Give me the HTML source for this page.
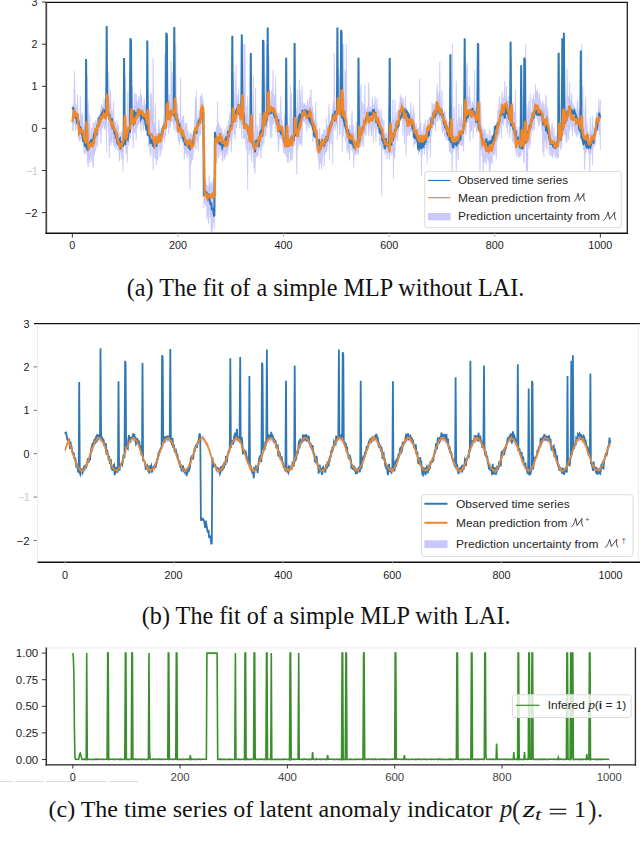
<!DOCTYPE html>
<html><head><meta charset="utf-8">
<style>
html,body{margin:0;padding:0;background:#fff;width:640px;height:855px;overflow:hidden}
svg{display:block}
.t{font-family:"Liberation Sans",sans-serif;font-size:10.8px;fill:#1a1a1a}
.lg{font-family:"Liberation Sans",sans-serif;font-size:10.6px;fill:#262626}
.cap{font-family:"Liberation Serif",serif;font-size:24px;fill:#111}
</style></head><body>
<svg width="640" height="855" viewBox="0 0 640 855">
<defs>
<clipPath id="c1"><rect x="46" y="2" width="582" height="232"/></clipPath>
<clipPath id="c2"><rect x="37" y="323" width="603" height="240"/></clipPath>
<clipPath id="c3"><rect x="46" y="647" width="590" height="118"/></clipPath>
</defs>
<!-- ============ CHART 1 ============ -->
<g clip-path="url(#c1)">
<path d="M72.4,112.2 72.9,104.9 73.4,107.6 73.9,98.6 74.5,70.9 75.0,90.0 75.5,108.6 76.1,108.3 76.6,104.6 77.1,104.3 77.6,94.7 78.2,114.7 78.7,117.7 79.2,124.0 79.8,117.6 80.3,96.0 80.8,123.7 81.3,114.1 81.9,128.6 82.4,112.2 82.9,120.5 83.4,124.5 84.0,129.0 84.5,131.0 85.0,125.1 85.6,137.1 86.1,132.6 86.6,116.0 87.1,76.1 87.7,135.2 88.2,100.2 88.7,119.9 89.3,140.4 89.8,114.5 90.3,134.2 90.8,140.3 91.4,135.0 91.9,127.8 92.4,142.4 93.0,123.1 93.5,135.1 94.0,122.5 94.5,131.6 95.1,129.4 95.6,120.1 96.1,123.1 96.6,124.8 97.2,118.6 97.7,116.4 98.2,118.3 98.8,115.7 99.3,116.1 99.8,115.4 100.3,112.4 100.9,107.7 101.4,104.4 101.9,111.8 102.5,105.5 103.0,108.1 103.5,107.0 104.0,97.9 104.6,109.1 105.1,99.6 105.6,109.7 106.2,108.3 106.7,99.9 107.2,87.0 107.7,89.0 108.3,103.3 108.8,71.6 109.3,97.4 109.8,109.1 110.4,90.0 110.9,94.8 111.4,119.4 112.0,110.0 112.5,116.5 113.0,117.9 113.5,101.0 114.1,121.7 114.6,120.9 115.1,121.8 115.7,122.1 116.2,128.1 116.7,129.3 117.2,120.6 117.8,133.3 118.3,124.4 118.8,137.0 119.4,140.3 119.9,132.4 120.4,137.7 120.9,137.3 121.5,131.0 122.0,133.3 122.5,134.3 123.0,134.5 123.6,124.4 124.1,92.6 124.6,110.6 125.2,75.8 125.7,114.3 126.2,123.6 126.7,128.3 127.3,124.0 127.8,90.9 128.3,112.9 128.9,121.1 129.4,70.0 129.9,123.1 130.4,103.8 131.0,85.3 131.5,101.0 132.0,101.9 132.6,86.3 133.1,104.6 133.6,116.1 134.1,107.2 134.7,92.7 135.2,94.6 135.7,114.5 136.2,93.9 136.8,108.0 137.3,101.6 137.8,102.2 138.4,99.0 138.9,96.3 139.4,99.0 139.9,107.2 140.5,90.2 141.0,101.3 141.5,94.5 142.1,105.3 142.6,106.7 143.1,109.8 143.6,105.7 144.2,98.3 144.7,109.7 145.2,104.1 145.8,110.5 146.3,103.2 146.8,115.7 147.3,113.9 147.9,95.5 148.4,97.4 148.9,126.0 149.4,128.0 150.0,114.5 150.5,91.8 151.0,120.7 151.6,94.1 152.1,105.9 152.6,125.1 153.1,58.7 153.7,133.5 154.2,123.1 154.7,134.6 155.3,102.9 155.8,127.0 156.3,135.8 156.8,133.0 157.4,138.9 157.9,135.9 158.4,128.1 159.0,119.4 159.5,132.0 160.0,129.8 160.5,137.0 161.1,127.5 161.6,131.8 162.1,126.4 162.6,125.9 163.2,123.9 163.7,116.7 164.2,114.5 164.8,53.6 165.3,113.9 165.8,121.3 166.3,44.2 166.9,95.4 167.4,78.2 167.9,96.2 168.5,114.3 169.0,96.3 169.5,94.0 170.0,102.7 170.6,108.6 171.1,60.8 171.6,91.7 172.2,72.0 172.7,105.6 173.2,104.0 173.7,97.2 174.3,88.1 174.8,67.4 175.3,72.8 175.8,44.2 176.4,113.2 176.9,111.5 177.4,102.9 178.0,111.8 178.5,114.1 179.0,123.6 179.5,123.1 180.1,117.5 180.6,77.7 181.1,126.4 181.7,120.2 182.2,120.5 182.7,117.6 183.2,115.2 183.8,116.6 184.3,127.3 184.8,131.4 185.4,126.0 185.9,122.8 186.4,122.9 186.9,122.8 187.5,134.8 188.0,130.8 188.5,136.8 189.0,136.6 189.6,134.7 190.1,133.1 190.6,132.1 191.2,143.2 191.7,133.9 192.2,139.9 192.7,136.9 193.3,131.3 193.8,130.8 194.3,125.9 194.9,115.7 195.4,97.3 195.9,122.1 196.4,90.8 197.0,121.1 197.5,121.4 198.0,117.0 198.6,118.0 199.1,110.1 199.6,117.9 200.1,99.0 200.7,95.9 201.2,100.5 201.7,93.5 202.2,97.3 202.8,99.5 203.3,101.5 203.8,126.5 204.4,151.1 204.9,184.5 205.4,186.2 205.9,181.4 206.5,187.5 207.0,189.4 207.5,185.5 208.1,185.8 208.6,190.2 209.1,175.3 209.6,191.9 210.2,183.1 210.7,185.2 211.2,189.5 211.8,181.5 212.3,184.6 212.8,189.1 213.3,179.9 213.9,178.0 214.4,190.0 214.9,179.5 215.4,130.8 216.0,131.4 216.5,126.3 217.0,136.3 217.6,101.6 218.1,130.3 218.6,122.7 219.1,136.6 219.7,125.1 220.2,128.4 220.7,129.8 221.3,127.8 221.8,129.7 222.3,132.0 222.8,138.0 223.4,133.5 223.9,135.5 224.4,138.6 225.0,128.7 225.5,140.9 226.0,133.6 226.5,131.9 227.1,125.7 227.6,132.1 228.1,131.1 228.6,119.6 229.2,128.9 229.7,112.7 230.2,118.5 230.8,116.0 231.3,110.4 231.8,121.6 232.3,104.8 232.9,100.4 233.4,84.9 233.9,71.7 234.5,105.8 235.0,115.4 235.5,95.1 236.0,64.9 236.6,108.9 237.1,95.0 237.6,105.4 238.2,95.2 238.7,89.4 239.2,101.1 239.7,106.1 240.3,103.8 240.8,98.8 241.3,112.1 241.8,109.3 242.4,76.0 242.9,44.2 243.4,117.7 244.0,44.2 244.5,110.9 245.0,44.2 245.5,105.3 246.1,105.5 246.6,115.3 247.1,119.4 247.7,95.8 248.2,115.0 248.7,122.8 249.2,132.4 249.8,135.3 250.3,133.2 250.8,132.6 251.4,103.9 251.9,93.5 252.4,131.7 252.9,114.1 253.5,76.4 254.0,142.6 254.5,134.6 255.0,129.7 255.6,87.4 256.1,123.6 256.6,130.4 257.2,140.5 257.7,125.5 258.2,135.1 258.7,133.2 259.3,129.7 259.8,113.1 260.3,114.1 260.9,130.4 261.4,125.1 261.9,127.1 262.4,126.5 263.0,86.0 263.5,101.4 264.0,94.3 264.6,94.1 265.1,107.7 265.6,82.6 266.1,71.1 266.7,44.2 267.2,44.2 267.7,94.7 268.2,87.0 268.8,53.6 269.3,59.1 269.8,104.0 270.4,102.3 270.9,101.3 271.4,90.4 271.9,91.3 272.5,96.9 273.0,69.8 273.5,104.6 274.1,97.4 274.6,94.8 275.1,107.3 275.6,76.7 276.2,104.9 276.7,111.7 277.2,117.6 277.8,112.2 278.3,123.4 278.8,113.2 279.3,115.4 279.9,120.2 280.4,106.7 280.9,95.8 281.4,120.3 282.0,119.7 282.5,124.9 283.0,129.8 283.6,129.8 284.1,126.0 284.6,114.4 285.1,141.1 285.7,128.3 286.2,88.3 286.7,91.3 287.3,115.3 287.8,123.0 288.3,129.5 288.8,132.5 289.4,136.6 289.9,107.3 290.4,85.0 291.0,131.1 291.5,93.3 292.0,137.6 292.5,117.5 293.1,133.6 293.6,123.0 294.1,118.0 294.6,100.6 295.2,105.6 295.7,105.6 296.2,108.4 296.8,115.8 297.3,89.3 297.8,131.0 298.3,124.3 298.9,99.1 299.4,79.4 299.9,113.6 300.5,90.6 301.0,113.3 301.5,112.6 302.0,85.8 302.6,107.9 303.1,102.8 303.6,108.0 304.2,104.6 304.7,103.3 305.2,106.3 305.7,105.0 306.3,105.5 306.8,109.8 307.3,103.1 307.8,99.8 308.4,107.6 308.9,110.0 309.4,99.0 310.0,96.9 310.5,99.7 311.0,89.3 311.5,103.1 312.1,111.8 312.6,106.2 313.1,119.5 313.7,112.4 314.2,126.4 314.7,119.3 315.2,126.1 315.8,101.8 316.3,121.5 316.8,124.6 317.4,134.9 317.9,129.2 318.4,143.2 318.9,147.1 319.5,127.8 320.0,141.9 320.5,142.8 321.0,139.7 321.6,134.2 322.1,136.9 322.6,134.0 323.2,136.1 323.7,129.4 324.2,129.6 324.7,129.7 325.3,135.3 325.8,133.2 326.3,117.9 326.9,131.3 327.4,125.8 327.9,129.8 328.4,117.0 329.0,104.1 329.5,117.3 330.0,124.5 330.6,121.3 331.1,119.8 331.6,116.9 332.1,109.5 332.7,108.9 333.2,101.7 333.7,110.8 334.2,53.1 334.8,95.2 335.3,107.6 335.8,114.6 336.4,107.9 336.9,107.6 337.4,102.5 337.9,73.5 338.5,67.6 339.0,97.6 339.5,84.7 340.1,74.2 340.6,91.2 341.1,96.6 341.6,58.5 342.2,77.8 342.7,44.2 343.2,96.9 343.8,44.2 344.3,90.9 344.8,111.0 345.3,70.3 345.9,111.4 346.4,44.2 346.9,112.8 347.4,121.5 348.0,129.7 348.5,130.0 349.0,130.5 349.6,124.6 350.1,128.9 350.6,131.6 351.1,126.5 351.7,115.2 352.2,110.4 352.7,133.5 353.3,124.8 353.8,134.0 354.3,132.8 354.8,140.1 355.4,141.1 355.9,125.4 356.4,121.7 357.0,132.0 357.5,137.0 358.0,134.6 358.5,125.6 359.1,115.7 359.6,109.6 360.1,126.1 360.6,88.9 361.2,84.0 361.7,113.1 362.2,101.8 362.8,118.5 363.3,121.3 363.8,104.1 364.3,114.0 364.9,85.7 365.4,111.3 365.9,109.5 366.5,114.9 367.0,107.0 367.5,107.7 368.0,112.6 368.6,82.7 369.1,91.6 369.6,111.9 370.2,112.4 370.7,106.2 371.2,108.6 371.7,111.4 372.3,97.9 372.8,102.3 373.3,105.8 373.8,104.8 374.4,109.9 374.9,96.4 375.4,102.0 376.0,107.1 376.5,109.0 377.0,97.7 377.5,109.8 378.1,109.1 378.6,110.6 379.1,110.1 379.7,112.4 380.2,118.8 380.7,122.6 381.2,108.7 381.8,123.5 382.3,118.2 382.8,130.7 383.4,126.8 383.9,120.1 384.4,132.5 384.9,136.3 385.5,132.4 386.0,133.5 386.5,133.0 387.0,136.8 387.6,139.0 388.1,125.9 388.6,107.1 389.2,145.0 389.7,138.8 390.2,119.7 390.7,106.1 391.3,133.7 391.8,130.7 392.3,120.6 392.9,99.1 393.4,122.1 393.9,118.8 394.4,130.7 395.0,100.2 395.5,116.4 396.0,116.2 396.6,117.4 397.1,111.7 397.6,113.9 398.1,109.7 398.7,111.5 399.2,105.1 399.7,104.2 400.2,94.5 400.8,103.3 401.3,97.0 401.8,96.7 402.4,103.0 402.9,100.9 403.4,98.2 403.9,105.7 404.5,112.3 405.0,109.8 405.5,96.0 406.1,113.2 406.6,107.8 407.1,114.7 407.6,110.3 408.2,112.9 408.7,112.9 409.2,119.5 409.8,114.3 410.3,113.1 410.8,102.1 411.3,110.5 411.9,114.2 412.4,117.6 412.9,116.3 413.4,105.6 414.0,113.3 414.5,113.3 415.0,126.0 415.6,127.8 416.1,123.0 416.6,125.7 417.1,129.4 417.7,131.5 418.2,127.4 418.7,129.9 419.3,135.8 419.8,78.9 420.3,129.2 420.8,123.1 421.4,137.0 421.9,132.2 422.4,135.0 423.0,130.6 423.5,126.7 424.0,123.8 424.5,130.2 425.1,119.4 425.6,129.5 426.1,129.5 426.6,129.3 427.2,124.0 427.7,120.2 428.2,122.4 428.8,118.0 429.3,117.7 429.8,116.9 430.3,116.8 430.9,116.1 431.4,118.5 431.9,102.3 432.5,104.3 433.0,104.7 433.5,104.2 434.0,110.7 434.6,104.3 435.1,102.7 435.6,105.2 436.2,105.5 436.7,93.0 437.2,83.7 437.7,95.8 438.3,102.2 438.8,92.1 439.3,105.0 439.8,61.6 440.4,98.0 440.9,109.3 441.4,105.6 442.0,89.7 442.5,111.6 443.0,110.9 443.5,114.8 444.1,112.0 444.6,110.7 445.1,111.5 445.7,115.4 446.2,119.4 446.7,118.5 447.2,126.1 447.8,124.0 448.3,122.1 448.8,122.6 449.4,128.5 449.9,123.9 450.4,131.8 450.9,108.1 451.5,105.7 452.0,124.6 452.5,44.2 453.0,132.3 453.6,121.4 454.1,107.6 454.6,131.2 455.2,135.4 455.7,124.8 456.2,81.1 456.7,120.8 457.3,120.1 457.8,127.8 458.3,130.6 458.9,103.9 459.4,126.7 459.9,117.7 460.4,125.7 461.0,119.1 461.5,105.8 462.0,126.0 462.6,119.0 463.1,123.1 463.6,120.4 464.1,113.4 464.7,103.3 465.2,92.3 465.7,85.2 466.2,65.3 466.8,99.0 467.3,62.7 467.8,105.9 468.4,96.6 468.9,102.6 469.4,85.4 469.9,97.6 470.5,98.2 471.0,109.8 471.5,110.1 472.1,102.8 472.6,101.2 473.1,104.2 473.6,109.0 474.2,100.3 474.7,69.3 475.2,113.6 475.8,106.8 476.3,111.8 476.8,114.4 477.3,98.0 477.9,97.8 478.4,83.4 478.9,90.9 479.4,44.2 480.0,107.1 480.5,102.4 481.0,105.6 481.6,133.1 482.1,134.7 482.6,126.2 483.1,130.0 483.7,136.1 484.2,128.8 484.7,129.0 485.3,141.6 485.8,130.1 486.3,139.9 486.8,141.8 487.4,137.5 487.9,133.6 488.4,140.1 489.0,144.4 489.5,128.9 490.0,131.5 490.5,141.5 491.1,140.1 491.6,141.5 492.1,141.4 492.6,139.8 493.2,138.4 493.7,137.1 494.2,133.4 494.8,130.3 495.3,131.4 495.8,129.5 496.3,127.3 496.9,122.1 497.4,118.0 497.9,109.5 498.5,112.7 499.0,103.2 499.5,96.1 500.0,112.0 500.6,103.8 501.1,104.2 501.6,99.5 502.2,91.5 502.7,94.8 503.2,98.5 503.7,100.5 504.3,97.3 504.8,80.8 505.3,97.9 505.8,100.3 506.4,85.8 506.9,100.3 507.4,101.4 508.0,102.3 508.5,96.4 509.0,107.0 509.5,110.7 510.1,107.0 510.6,77.2 511.1,56.9 511.7,89.2 512.2,110.0 512.7,107.8 513.2,102.4 513.8,116.1 514.3,111.7 514.8,122.8 515.4,89.8 515.9,110.8 516.4,141.3 516.9,137.3 517.5,127.0 518.0,129.8 518.5,135.5 519.0,135.7 519.6,126.3 520.1,136.3 520.6,141.2 521.2,139.9 521.7,88.2 522.2,95.9 522.7,129.9 523.3,136.1 523.8,102.6 524.3,136.4 524.9,106.7 525.4,66.1 525.9,44.2 526.4,123.7 527.0,104.6 527.5,124.6 528.0,130.6 528.6,100.9 529.1,122.5 529.6,111.9 530.1,93.8 530.7,121.2 531.2,112.8 531.7,114.4 532.2,98.7 532.8,102.9 533.3,94.4 533.8,104.5 534.4,100.1 534.9,101.0 535.4,84.3 535.9,98.9 536.5,90.9 537.0,94.9 537.5,89.4 538.1,96.0 538.6,105.1 539.1,96.0 539.6,93.1 540.2,103.4 540.7,101.8 541.2,104.0 541.8,106.9 542.3,107.5 542.8,100.0 543.3,114.1 543.9,103.4 544.4,113.6 544.9,106.9 545.4,104.0 546.0,94.9 546.5,103.7 547.0,115.5 547.6,107.8 548.1,114.3 548.6,119.2 549.1,117.9 549.7,131.3 550.2,134.2 550.7,136.1 551.3,129.4 551.8,124.2 552.3,123.0 552.8,134.8 553.4,137.4 553.9,128.7 554.4,138.8 555.0,137.2 555.5,136.0 556.0,139.1 556.5,136.7 557.1,132.5 557.6,136.9 558.1,133.4 558.6,132.8 559.2,51.2 559.7,98.8 560.2,106.2 560.8,112.9 561.3,75.5 561.8,126.4 562.3,119.9 562.9,95.9 563.4,61.1 563.9,118.1 564.5,71.6 565.0,91.6 565.5,104.3 566.0,112.8 566.6,109.2 567.1,68.6 567.6,100.2 568.2,97.7 568.7,96.5 569.2,102.8 569.7,81.9 570.3,104.7 570.8,99.4 571.3,101.5 571.8,93.0 572.4,113.6 572.9,103.0 573.4,109.2 574.0,105.4 574.5,107.7 575.0,111.5 575.5,107.8 576.1,109.8 576.6,115.8 577.1,101.3 577.7,99.6 578.2,111.4 578.7,114.5 579.2,108.6 579.8,116.6 580.3,118.7 580.8,105.0 581.4,105.8 581.9,44.2 582.4,107.3 582.9,86.8 583.5,122.7 584.0,131.3 584.5,127.2 585.0,106.9 585.6,96.9 586.1,116.6 586.6,122.0 587.2,123.5 587.7,130.4 588.2,131.2 588.7,134.3 589.3,134.5 589.8,136.0 590.3,116.8 590.9,137.1 591.4,132.8 591.9,129.2 592.4,116.3 593.0,124.1 593.5,128.4 594.0,131.1 594.6,130.7 595.1,127.6 595.6,125.9 596.1,114.0 596.7,115.4 597.2,112.1 597.7,112.5 598.2,110.9 598.8,99.1 599.3,108.5 599.8,112.2 600.4,99.9 600.4,149.8 599.8,129.8 599.3,134.6 598.8,124.9 598.2,130.5 597.7,126.8 597.2,130.5 596.7,129.9 596.1,130.6 595.6,144.6 595.1,140.9 594.6,142.7 594.0,146.5 593.5,144.1 593.0,145.6 592.4,165.1 591.9,143.1 591.4,150.6 590.9,153.8 590.3,150.6 589.8,175.8 589.3,151.3 588.7,154.2 588.2,146.6 587.7,147.4 587.2,141.6 586.6,149.9 586.1,152.3 585.6,151.4 585.0,160.1 584.5,169.9 584.0,145.7 583.5,150.0 582.9,141.3 582.4,139.6 581.9,134.4 581.4,133.7 580.8,134.6 580.3,138.3 579.8,132.2 579.2,132.9 578.7,127.9 578.2,135.2 577.7,127.6 577.1,137.2 576.6,136.1 576.1,134.2 575.5,130.2 575.0,133.3 574.5,129.4 574.0,126.8 573.4,123.3 572.9,128.8 572.4,136.6 571.8,127.6 571.3,126.3 570.8,121.4 570.3,122.0 569.7,131.4 569.2,125.3 568.7,140.0 568.2,128.9 567.6,124.2 567.1,141.9 566.6,132.8 566.0,143.3 565.5,128.9 565.0,135.4 564.5,127.6 563.9,135.8 563.4,124.6 562.9,130.5 562.3,137.6 561.8,146.2 561.3,147.1 560.8,150.2 560.2,146.6 559.7,132.6 559.2,133.1 558.6,157.9 558.1,153.9 557.6,158.7 557.1,157.2 556.5,153.8 556.0,155.5 555.5,158.1 555.0,155.2 554.4,151.1 553.9,150.1 553.4,154.7 552.8,157.8 552.3,157.1 551.8,148.3 551.3,156.1 550.7,156.3 550.2,147.4 549.7,143.1 549.1,154.5 548.6,135.8 548.1,136.7 547.6,131.8 547.0,150.0 546.5,131.9 546.0,147.8 545.4,133.6 544.9,141.1 544.4,135.7 543.9,156.9 543.3,128.9 542.8,152.2 542.3,124.8 541.8,130.2 541.2,119.6 540.7,120.7 540.2,122.3 539.6,123.3 539.1,124.3 538.6,126.6 538.1,124.1 537.5,119.2 537.0,115.1 536.5,115.9 535.9,117.9 535.4,114.9 534.9,116.5 534.4,130.1 533.8,120.1 533.3,129.8 532.8,131.1 532.2,126.2 531.7,132.4 531.2,136.0 530.7,139.6 530.1,144.7 529.6,138.7 529.1,148.8 528.6,143.1 528.0,145.0 527.5,202.9 527.0,152.8 526.4,178.4 525.9,130.2 525.4,134.0 524.9,135.6 524.3,163.2 523.8,162.9 523.3,151.7 522.7,151.7 522.2,143.2 521.7,137.0 521.2,155.2 520.6,156.5 520.1,152.9 519.6,157.8 519.0,155.3 518.5,157.2 518.0,156.1 517.5,146.5 516.9,148.8 516.4,156.1 515.9,151.4 515.4,148.2 514.8,146.8 514.3,137.1 513.8,143.8 513.2,138.9 512.7,141.6 512.2,140.6 511.7,112.8 511.1,115.1 510.6,130.5 510.1,133.9 509.5,138.0 509.0,120.2 508.5,124.7 508.0,117.4 507.4,133.3 506.9,112.8 506.4,127.7 505.8,116.2 505.3,117.1 504.8,110.7 504.3,118.8 503.7,125.8 503.2,116.0 502.7,124.0 502.2,117.6 501.6,139.2 501.1,119.6 500.6,125.1 500.0,132.3 499.5,130.4 499.0,137.6 498.5,132.3 497.9,137.9 497.4,140.9 496.9,140.0 496.3,158.9 495.8,150.0 495.3,148.2 494.8,155.5 494.2,152.6 493.7,153.8 493.2,152.8 492.6,156.8 492.1,163.7 491.6,162.1 491.1,162.6 490.5,158.5 490.0,192.6 489.5,182.0 489.0,161.7 488.4,160.9 487.9,160.1 487.4,155.2 486.8,155.9 486.3,164.3 485.8,164.0 485.3,155.8 484.7,155.8 484.2,162.7 483.7,156.6 483.1,174.7 482.6,153.8 482.1,156.4 481.6,146.4 481.0,150.2 480.5,141.4 480.0,178.3 479.4,134.3 478.9,121.5 478.4,122.8 477.9,128.7 477.3,130.7 476.8,130.0 476.3,132.9 475.8,122.4 475.2,127.2 474.7,127.6 474.2,123.2 473.6,123.5 473.1,138.8 472.6,123.8 472.1,122.2 471.5,131.5 471.0,129.8 470.5,124.8 469.9,142.0 469.4,124.4 468.9,120.1 468.4,117.9 467.8,122.6 467.3,119.9 466.8,121.5 466.2,131.5 465.7,135.2 465.2,130.1 464.7,131.2 464.1,128.9 463.6,151.1 463.1,136.3 462.6,145.8 462.0,143.7 461.5,146.0 461.0,145.7 460.4,145.7 459.9,140.5 459.4,143.7 458.9,143.3 458.3,160.1 457.8,155.9 457.3,146.9 456.7,149.1 456.2,173.2 455.7,146.3 455.2,148.6 454.6,147.6 454.1,149.0 453.6,145.4 453.0,152.1 452.5,149.0 452.0,180.2 451.5,132.8 450.9,154.1 450.4,153.4 449.9,144.7 449.4,151.8 448.8,142.1 448.3,137.8 447.8,136.1 447.2,140.4 446.7,136.0 446.2,140.2 445.7,134.4 445.1,134.6 444.6,137.3 444.1,128.8 443.5,131.1 443.0,126.0 442.5,133.1 442.0,129.1 441.4,121.7 440.9,121.2 440.4,118.6 439.8,115.4 439.3,119.5 438.8,116.2 438.3,117.4 437.7,122.1 437.2,116.6 436.7,109.7 436.2,120.8 435.6,131.1 435.1,124.4 434.6,123.8 434.0,125.2 433.5,122.0 433.0,127.8 432.5,129.0 431.9,127.9 431.4,135.4 430.9,137.5 430.3,158.0 429.8,140.6 429.3,136.1 428.8,142.4 428.2,148.8 427.7,148.8 427.2,163.3 426.6,149.2 426.1,143.1 425.6,142.9 425.1,147.8 424.5,154.2 424.0,149.6 423.5,148.3 423.0,142.9 422.4,154.0 421.9,155.4 421.4,175.5 420.8,151.1 420.3,144.2 419.8,152.5 419.3,150.1 418.7,150.7 418.2,155.1 417.7,148.5 417.1,142.7 416.6,140.9 416.1,143.3 415.6,144.2 415.0,143.5 414.5,142.2 414.0,146.5 413.4,136.2 412.9,137.5 412.4,130.2 411.9,132.2 411.3,131.6 410.8,131.8 410.3,130.8 409.8,132.9 409.2,135.7 408.7,132.7 408.2,130.1 407.6,136.6 407.1,128.5 406.6,128.1 406.1,156.7 405.5,123.3 405.0,124.2 404.5,143.9 403.9,124.3 403.4,116.6 402.9,135.4 402.4,118.9 401.8,113.7 401.3,119.1 400.8,118.5 400.2,118.3 399.7,117.4 399.2,122.8 398.7,131.0 398.1,131.8 397.6,137.7 397.1,140.9 396.6,135.4 396.0,137.3 395.5,142.1 395.0,158.5 394.4,157.9 393.9,147.2 393.4,178.9 392.9,144.1 392.3,152.3 391.8,155.7 391.3,149.6 390.7,135.5 390.2,137.6 389.7,159.5 389.2,159.2 388.6,153.8 388.1,153.5 387.6,151.6 387.0,159.6 386.5,150.8 386.0,150.5 385.5,152.6 384.9,154.8 384.4,147.1 383.9,150.6 383.4,146.6 382.8,147.7 382.3,140.6 381.8,195.7 381.2,138.7 380.7,137.0 380.2,144.0 379.7,145.9 379.1,134.0 378.6,129.3 378.1,128.6 377.5,129.7 377.0,128.2 376.5,129.1 376.0,141.5 375.4,133.8 374.9,127.6 374.4,123.8 373.8,121.5 373.3,142.5 372.8,126.5 372.3,125.6 371.7,136.2 371.2,135.5 370.7,125.2 370.2,124.4 369.6,129.3 369.1,132.1 368.6,135.9 368.0,127.9 367.5,121.7 367.0,121.3 366.5,127.2 365.9,135.8 365.4,131.2 364.9,134.8 364.3,128.8 363.8,141.7 363.3,146.8 362.8,146.0 362.2,138.4 361.7,139.7 361.2,145.5 360.6,146.7 360.1,145.9 359.6,135.0 359.1,139.4 358.5,154.9 358.0,150.6 357.5,153.7 357.0,151.5 356.4,152.0 355.9,155.5 355.4,154.4 354.8,152.7 354.3,153.8 353.8,167.8 353.3,150.9 352.7,151.5 352.2,148.9 351.7,150.2 351.1,142.9 350.6,145.8 350.1,145.9 349.6,160.7 349.0,148.7 348.5,147.4 348.0,153.3 347.4,144.2 346.9,150.4 346.4,136.7 345.9,128.7 345.3,141.8 344.8,125.1 344.3,128.0 343.8,128.7 343.2,136.5 342.7,105.1 342.2,152.2 341.6,115.9 341.1,121.3 340.6,124.4 340.1,134.7 339.5,134.5 339.0,122.2 338.5,110.6 337.9,106.0 337.4,140.2 336.9,123.2 336.4,124.0 335.8,126.5 335.3,128.1 334.8,130.9 334.2,122.1 333.7,127.7 333.2,129.1 332.7,163.7 332.1,128.9 331.6,132.5 331.1,144.3 330.6,138.8 330.0,137.2 329.5,160.4 329.0,141.6 328.4,137.0 327.9,146.6 327.4,145.1 326.9,150.6 326.3,152.0 325.8,147.7 325.3,154.2 324.7,151.1 324.2,166.4 323.7,151.4 323.2,151.5 322.6,156.4 322.1,166.6 321.6,169.8 321.0,152.9 320.5,163.5 320.0,159.1 319.5,169.5 318.9,162.6 318.4,158.5 317.9,156.3 317.4,149.0 316.8,151.1 316.3,151.2 315.8,145.3 315.2,138.8 314.7,133.0 314.2,137.9 313.7,130.8 313.1,141.0 312.6,141.7 312.1,130.0 311.5,126.6 311.0,120.9 310.5,122.0 310.0,126.8 309.4,119.6 308.9,128.5 308.4,122.0 307.8,124.2 307.3,124.5 306.8,132.1 306.3,124.7 305.7,123.0 305.2,123.6 304.7,121.6 304.2,119.7 303.6,121.7 303.1,120.7 302.6,123.1 302.0,146.2 301.5,140.6 301.0,140.1 300.5,144.0 299.9,135.8 299.4,145.3 298.9,137.9 298.3,139.5 297.8,148.4 297.3,150.5 296.8,174.9 296.2,147.1 295.7,126.7 295.2,129.5 294.6,145.7 294.1,142.0 293.6,143.3 293.1,148.7 292.5,157.2 292.0,160.5 291.5,157.8 291.0,159.2 290.4,161.6 289.9,148.7 289.4,152.4 288.8,152.4 288.3,163.3 287.8,154.8 287.3,162.2 286.7,135.1 286.2,157.0 285.7,154.9 285.1,153.9 284.6,147.5 284.1,153.4 283.6,151.8 283.0,145.1 282.5,144.9 282.0,134.2 281.4,139.6 280.9,137.5 280.4,137.7 279.9,137.8 279.3,137.2 278.8,146.6 278.3,152.3 277.8,137.0 277.2,133.9 276.7,126.3 276.2,128.8 275.6,132.6 275.1,124.2 274.6,121.7 274.1,119.7 273.5,121.5 273.0,124.9 272.5,117.5 271.9,137.8 271.4,131.8 270.9,116.6 270.4,138.7 269.8,125.6 269.3,121.6 268.8,106.9 268.2,120.3 267.7,123.3 267.2,128.0 266.7,124.1 266.1,135.6 265.6,136.5 265.1,136.1 264.6,119.7 264.0,143.2 263.5,123.2 263.0,146.1 262.4,141.8 261.9,146.0 261.4,150.8 260.9,158.4 260.3,145.8 259.8,146.0 259.3,150.4 258.7,145.8 258.2,156.0 257.7,155.7 257.2,155.9 256.6,157.6 256.1,153.3 255.6,158.4 255.0,173.8 254.5,166.3 254.0,168.4 253.5,161.7 252.9,154.4 252.4,146.3 251.9,133.0 251.4,162.0 250.8,148.6 250.3,149.7 249.8,148.9 249.2,154.3 248.7,135.8 248.2,144.2 247.7,189.7 247.1,144.6 246.6,138.3 246.1,149.4 245.5,141.5 245.0,135.2 244.5,138.8 244.0,135.7 243.4,138.5 242.9,106.8 242.4,110.5 241.8,139.3 241.3,125.9 240.8,122.4 240.3,123.4 239.7,128.2 239.2,113.3 238.7,115.2 238.2,117.2 237.6,122.3 237.1,121.0 236.6,128.2 236.0,125.8 235.5,126.8 235.0,139.2 234.5,130.7 233.9,134.5 233.4,117.8 232.9,125.8 232.3,136.4 231.8,140.0 231.3,152.1 230.8,139.9 230.2,140.7 229.7,139.2 229.2,144.1 228.6,149.4 228.1,142.7 227.6,152.5 227.1,155.2 226.5,150.5 226.0,152.3 225.5,156.9 225.0,154.8 224.4,159.8 223.9,149.8 223.4,152.8 222.8,161.5 222.3,161.2 221.8,143.4 221.3,145.7 220.7,155.7 220.2,140.6 219.7,148.4 219.1,152.6 218.6,158.4 218.1,143.5 217.6,146.6 217.0,163.4 216.5,160.9 216.0,153.1 215.4,153.7 214.9,203.3 214.4,229.1 213.9,220.9 213.3,222.2 212.8,220.9 212.3,231.5 211.8,224.1 211.2,235.6 210.7,211.9 210.2,217.6 209.6,209.6 209.1,208.6 208.6,224.4 208.1,213.2 207.5,215.6 207.0,219.7 206.5,205.9 205.9,205.4 205.4,204.7 204.9,204.1 204.4,198.5 203.8,207.9 203.3,120.4 202.8,129.4 202.2,117.5 201.7,123.9 201.2,118.8 200.7,134.5 200.1,130.8 199.6,135.3 199.1,135.5 198.6,137.5 198.0,151.1 197.5,139.4 197.0,140.5 196.4,137.9 195.9,149.4 195.4,142.1 194.9,139.6 194.3,145.8 193.8,150.2 193.3,155.5 192.7,160.1 192.2,158.2 191.7,157.8 191.2,164.3 190.6,149.7 190.1,189.3 189.6,177.0 189.0,156.3 188.5,151.3 188.0,153.9 187.5,155.7 186.9,157.5 186.4,150.2 185.9,150.1 185.4,153.7 184.8,145.9 184.3,159.9 183.8,146.7 183.2,143.5 182.7,142.7 182.2,140.8 181.7,139.2 181.1,138.7 180.6,137.2 180.1,141.0 179.5,145.3 179.0,141.2 178.5,141.6 178.0,138.1 177.4,131.5 176.9,126.6 176.4,132.6 175.8,131.4 175.3,109.0 174.8,118.6 174.3,129.8 173.7,125.3 173.2,123.3 172.7,121.4 172.2,121.3 171.6,118.8 171.1,122.0 170.6,123.3 170.0,128.0 169.5,124.6 169.0,125.5 168.5,133.9 167.9,112.0 167.4,117.9 166.9,115.2 166.3,129.5 165.8,136.4 165.3,134.3 164.8,136.3 164.2,143.0 163.7,135.7 163.2,137.6 162.6,139.1 162.1,150.8 161.6,146.8 161.1,146.4 160.5,153.5 160.0,156.5 159.5,147.7 159.0,140.3 158.4,147.6 157.9,160.7 157.4,160.0 156.8,148.2 156.3,165.3 155.8,145.6 155.3,159.0 154.7,156.3 154.2,147.6 153.7,149.6 153.1,170.3 152.6,148.5 152.1,145.7 151.6,141.2 151.0,156.7 150.5,152.4 150.0,152.9 149.4,142.1 148.9,142.2 148.4,147.0 147.9,118.1 147.3,134.9 146.8,128.5 146.3,135.9 145.8,127.5 145.2,120.5 144.7,125.1 144.2,123.5 143.6,130.7 143.1,127.3 142.6,121.2 142.1,123.6 141.5,120.1 141.0,131.8 140.5,124.3 139.9,122.1 139.4,123.7 138.9,119.2 138.4,125.1 137.8,120.6 137.3,128.3 136.8,121.5 136.2,140.1 135.7,133.7 135.2,129.1 134.7,132.9 134.1,127.3 133.6,133.2 133.1,147.9 132.6,135.7 132.0,126.6 131.5,121.2 131.0,124.5 130.4,138.8 129.9,136.6 129.4,134.0 128.9,145.8 128.3,135.4 127.8,137.8 127.3,162.6 126.7,150.4 126.2,150.6 125.7,153.6 125.2,123.5 124.6,124.1 124.1,145.6 123.6,145.3 123.0,171.5 122.5,148.9 122.0,152.5 121.5,160.1 120.9,150.6 120.4,151.3 119.9,153.3 119.4,161.5 118.8,151.5 118.3,149.0 117.8,150.6 117.2,141.0 116.7,145.3 116.2,148.0 115.7,149.8 115.1,137.9 114.6,147.1 114.1,137.8 113.5,145.4 113.0,132.3 112.5,131.6 112.0,142.5 111.4,135.8 110.9,145.4 110.4,137.3 109.8,142.4 109.3,158.0 108.8,134.8 108.3,126.6 107.7,109.2 107.2,101.2 106.7,152.6 106.2,119.9 105.6,127.0 105.1,130.3 104.6,127.8 104.0,127.8 103.5,121.9 103.0,124.4 102.5,128.6 101.9,124.9 101.4,131.4 100.9,143.8 100.3,128.5 99.8,130.7 99.3,131.0 98.8,135.0 98.2,132.2 97.7,143.7 97.2,147.7 96.6,144.8 96.1,141.9 95.6,151.1 95.1,149.4 94.5,155.6 94.0,149.1 93.5,165.5 93.0,168.2 92.4,156.0 91.9,156.1 91.4,162.0 90.8,153.0 90.3,154.8 89.8,162.6 89.3,162.6 88.7,154.4 88.2,167.3 87.7,164.6 87.1,156.4 86.6,133.0 86.1,154.0 85.6,151.7 85.0,150.6 84.5,153.8 84.0,153.7 83.4,140.9 82.9,143.4 82.4,142.3 81.9,140.9 81.3,137.2 80.8,138.8 80.3,139.9 79.8,141.6 79.2,140.7 78.7,138.9 78.2,134.4 77.6,124.1 77.1,123.8 76.6,123.3 76.1,130.2 75.5,130.1 75.0,123.4 74.5,123.6 73.9,120.6 73.4,130.4 72.9,131.3 72.4,128.9Z" fill="#bdbdfb" fill-opacity="0.75" stroke="#b0b0f6" stroke-opacity="0.6" stroke-width="0.6"/>
<path d="M72.4,107.4 72.9,108.6 73.4,108.2 73.9,110.7 74.5,114.3 75.0,115.7 75.5,114.0 76.1,116.7 76.6,115.9 77.1,123.8 77.6,116.6 78.2,122.3 78.7,122.0 79.2,125.7 79.8,127.9 80.3,127.5 80.8,128.2 81.3,132.5 81.9,134.0 82.4,133.4 82.9,138.9 83.4,141.9 84.0,138.4 84.5,142.3 85.0,146.6 85.6,144.7 86.1,58.9 86.6,147.2 87.1,148.4 87.7,144.9 88.2,142.9 88.7,145.8 89.3,147.0 89.8,143.8 90.3,142.5 90.8,144.4 91.4,141.5 91.9,139.3 92.4,141.4 93.0,141.7 93.5,137.5 94.0,136.4 94.5,132.7 95.1,137.2 95.6,134.0 96.1,132.8 96.6,133.4 97.2,127.0 97.7,124.3 98.2,125.9 98.8,118.9 99.3,118.8 99.8,117.8 100.3,117.0 100.9,114.4 101.4,119.0 101.9,113.0 102.5,112.2 103.0,117.4 103.5,111.5 104.0,112.6 104.6,109.7 105.1,112.7 105.6,111.7 106.2,111.0 106.7,26.1 107.2,111.3 107.7,113.8 108.3,113.1 108.8,116.7 109.3,113.8 109.8,116.2 110.4,119.5 110.9,118.9 111.4,118.9 112.0,119.1 112.5,129.3 113.0,124.7 113.5,127.4 114.1,130.5 114.6,134.5 115.1,130.4 115.7,138.3 116.2,135.2 116.7,134.8 117.2,143.4 117.8,141.4 118.3,145.0 118.8,142.0 119.4,139.7 119.9,139.0 120.4,149.2 120.9,146.5 121.5,143.4 122.0,141.2 122.5,144.0 123.0,146.7 123.6,143.5 124.1,58.1 124.6,143.4 125.2,143.8 125.7,139.9 126.2,138.9 126.7,138.6 127.3,137.6 127.8,138.8 128.3,135.2 128.9,129.3 129.4,131.2 129.9,132.7 130.4,38.3 131.0,40.8 131.5,118.7 132.0,122.3 132.6,122.1 133.1,123.1 133.6,114.7 134.1,110.3 134.7,117.7 135.2,116.2 135.7,112.2 136.2,115.1 136.8,113.1 137.3,112.8 137.8,111.2 138.4,108.8 138.9,111.6 139.4,109.5 139.9,113.3 140.5,112.0 141.0,118.9 141.5,118.0 142.1,113.3 142.6,118.0 143.1,116.3 143.6,117.7 144.2,117.2 144.7,120.0 145.2,121.0 145.8,125.5 146.3,128.7 146.8,130.4 147.3,40.4 147.9,134.8 148.4,134.9 148.9,135.3 149.4,136.0 150.0,138.9 150.5,144.2 151.0,140.8 151.6,141.1 152.1,139.9 152.6,142.0 153.1,145.8 153.7,146.5 154.2,139.9 154.7,143.3 155.3,140.6 155.8,139.7 156.3,146.8 156.8,143.3 157.4,142.5 157.9,141.5 158.4,140.6 159.0,140.4 159.5,139.3 160.0,142.2 160.5,137.5 161.1,137.4 161.6,133.7 162.1,133.6 162.6,129.2 163.2,127.0 163.7,126.6 164.2,124.9 164.8,123.9 165.3,123.6 165.8,121.4 166.3,32.8 166.9,35.4 167.4,116.8 167.9,114.2 168.5,118.0 169.0,111.5 169.5,114.9 170.0,114.2 170.6,112.4 171.1,113.1 171.6,110.8 172.2,113.1 172.7,114.5 173.2,114.4 173.7,109.5 174.3,26.9 174.8,117.3 175.3,115.3 175.8,120.4 176.4,113.2 176.9,122.9 177.4,119.3 178.0,120.6 178.5,127.2 179.0,124.5 179.5,124.4 180.1,127.4 180.6,129.6 181.1,129.5 181.7,133.1 182.2,134.2 182.7,136.9 183.2,136.4 183.8,141.7 184.3,138.6 184.8,142.9 185.4,145.4 185.9,142.5 186.4,139.9 186.9,142.2 187.5,146.3 188.0,143.4 188.5,146.4 189.0,145.4 189.6,144.6 190.1,150.2 190.6,143.2 191.2,145.5 191.7,143.8 192.2,144.7 192.7,143.6 193.3,140.8 193.8,135.0 194.3,131.4 194.9,134.1 195.4,129.7 195.9,131.4 196.4,133.9 197.0,127.1 197.5,124.6 198.0,125.2 198.6,121.8 199.1,119.5 199.6,121.7 200.1,121.9 200.7,117.4 201.2,116.2 201.7,115.5 202.2,111.3 202.8,108.6 203.3,113.5 203.8,193.4 204.4,192.4 204.9,191.1 205.4,191.3 205.9,192.7 206.5,192.5 207.0,193.7 207.5,197.4 208.1,200.5 208.6,193.4 209.1,196.9 209.6,199.6 210.2,203.6 210.7,204.5 211.2,202.3 211.8,210.2 212.3,208.3 212.8,208.4 213.3,211.3 213.9,215.5 214.4,215.4 214.9,132.0 215.4,136.1 216.0,141.4 216.5,139.7 217.0,138.6 217.6,138.9 218.1,141.2 218.6,142.5 219.1,142.2 219.7,144.6 220.2,141.7 220.7,144.6 221.3,144.5 221.8,143.9 222.3,147.8 222.8,146.6 223.4,140.5 223.9,142.9 224.4,143.6 225.0,141.2 225.5,142.2 226.0,139.1 226.5,140.2 227.1,136.4 227.6,139.6 228.1,130.7 228.6,133.8 229.2,134.8 229.7,129.7 230.2,128.4 230.8,125.4 231.3,127.0 231.8,121.5 232.3,35.8 232.9,122.8 233.4,117.3 233.9,117.7 234.5,115.2 235.0,119.2 235.5,116.7 236.0,111.9 236.6,112.5 237.1,107.8 237.6,113.5 238.2,111.1 238.7,104.3 239.2,113.8 239.7,114.5 240.3,112.8 240.8,113.6 241.3,112.2 241.8,34.5 242.4,118.3 242.9,117.1 243.4,112.3 244.0,117.2 244.5,129.0 245.0,123.9 245.5,127.4 246.1,125.2 246.6,128.9 247.1,125.3 247.7,129.5 248.2,131.2 248.7,134.5 249.2,136.6 249.8,137.1 250.3,136.0 250.8,53.0 251.4,142.5 251.9,139.4 252.4,142.9 252.9,144.3 253.5,146.6 254.0,146.4 254.5,146.8 255.0,152.3 255.6,142.5 256.1,143.4 256.6,144.9 257.2,141.1 257.7,141.8 258.2,141.1 258.7,147.2 259.3,140.4 259.8,137.2 260.3,133.1 260.9,131.0 261.4,130.5 261.9,135.4 262.4,136.4 263.0,40.0 263.5,42.5 264.0,123.4 264.6,124.5 265.1,122.0 265.6,124.8 266.1,118.4 266.7,119.3 267.2,116.0 267.7,27.4 268.2,115.0 268.8,113.0 269.3,113.1 269.8,110.5 270.4,110.7 270.9,113.1 271.4,113.0 271.9,107.2 272.5,112.1 273.0,109.7 273.5,111.7 274.1,114.9 274.6,116.2 275.1,115.0 275.6,115.7 276.2,116.1 276.7,122.2 277.2,121.9 277.8,122.1 278.3,119.4 278.8,131.1 279.3,125.7 279.9,129.8 280.4,129.0 280.9,133.0 281.4,132.5 282.0,131.0 282.5,135.6 283.0,136.8 283.6,138.3 284.1,142.4 284.6,140.2 285.1,143.1 285.7,145.5 286.2,57.7 286.7,145.2 287.3,143.1 287.8,145.3 288.3,146.6 288.8,141.4 289.4,142.3 289.9,141.1 290.4,142.2 291.0,143.2 291.5,143.1 292.0,141.7 292.5,137.4 293.1,138.3 293.6,140.9 294.1,135.8 294.6,42.9 295.2,132.1 295.7,133.9 296.2,132.4 296.8,127.2 297.3,126.1 297.8,128.4 298.3,120.7 298.9,115.6 299.4,123.3 299.9,113.6 300.5,118.7 301.0,117.0 301.5,115.2 302.0,117.5 302.6,109.8 303.1,111.2 303.6,113.9 304.2,112.4 304.7,115.4 305.2,112.5 305.7,109.5 306.3,116.5 306.8,113.8 307.3,113.1 307.8,111.6 308.4,111.8 308.9,117.5 309.4,119.5 310.0,117.8 310.5,121.3 311.0,122.7 311.5,120.7 312.1,120.8 312.6,126.1 313.1,128.9 313.7,128.6 314.2,136.5 314.7,133.4 315.2,137.6 315.8,130.4 316.3,136.1 316.8,138.9 317.4,141.0 317.9,147.9 318.4,140.7 318.9,139.3 319.5,145.9 320.0,142.9 320.5,143.2 321.0,149.1 321.6,142.9 322.1,141.7 322.6,144.2 323.2,144.5 323.7,141.8 324.2,146.9 324.7,141.8 325.3,138.4 325.8,143.0 326.3,136.1 326.9,138.2 327.4,141.0 327.9,134.4 328.4,135.0 329.0,130.1 329.5,132.2 330.0,124.9 330.6,127.8 331.1,123.4 331.6,124.1 332.1,121.9 332.7,116.6 333.2,117.7 333.7,118.0 334.2,118.9 334.8,111.8 335.3,112.0 335.8,113.9 336.4,111.8 336.9,114.6 337.4,27.4 337.9,113.7 338.5,110.7 339.0,111.1 339.5,114.1 340.1,110.9 340.6,111.4 341.1,29.9 341.6,32.4 342.2,117.1 342.7,117.8 343.2,117.7 343.8,120.4 344.3,119.8 344.8,126.6 345.3,121.4 345.9,128.7 346.4,128.8 346.9,133.5 347.4,130.2 348.0,130.1 348.5,132.2 349.0,134.3 349.6,141.8 350.1,141.2 350.6,141.6 351.1,143.9 351.7,139.7 352.2,142.9 352.7,144.1 353.3,143.4 353.8,147.4 354.3,147.5 354.8,147.5 355.4,143.9 355.9,144.0 356.4,142.9 357.0,141.0 357.5,146.4 358.0,143.5 358.5,57.7 359.1,143.3 359.6,139.9 360.1,134.7 360.6,133.0 361.2,131.5 361.7,132.5 362.2,131.5 362.8,126.6 363.3,128.5 363.8,125.1 364.3,120.9 364.9,123.6 365.4,122.7 365.9,119.7 366.5,116.8 367.0,115.8 367.5,115.4 368.0,113.3 368.6,117.9 369.1,115.2 369.6,112.0 370.2,114.3 370.7,115.1 371.2,114.6 371.7,113.9 372.3,112.3 372.8,114.8 373.3,112.1 373.8,109.1 374.4,114.6 374.9,112.0 375.4,115.6 376.0,120.4 376.5,119.5 377.0,122.8 377.5,119.9 378.1,126.3 378.6,121.7 379.1,125.2 379.7,133.5 380.2,128.0 380.7,127.8 381.2,135.3 381.8,132.4 382.3,140.9 382.8,137.2 383.4,143.4 383.9,139.2 384.4,146.0 384.9,149.2 385.5,142.4 386.0,138.3 386.5,146.1 387.0,142.9 387.6,144.9 388.1,146.1 388.6,143.6 389.2,140.7 389.7,58.1 390.2,142.4 390.7,142.1 391.3,145.7 391.8,137.0 392.3,135.0 392.9,141.0 393.4,132.9 393.9,135.6 394.4,134.6 395.0,128.8 395.5,130.4 396.0,128.5 396.6,123.8 397.1,122.7 397.6,122.1 398.1,126.2 398.7,125.1 399.2,116.8 399.7,120.6 400.2,116.6 400.8,118.5 401.3,115.2 401.8,117.1 402.4,109.0 402.9,115.0 403.4,112.3 403.9,112.2 404.5,108.5 405.0,115.2 405.5,111.9 406.1,112.7 406.6,111.4 407.1,112.2 407.6,115.4 408.2,114.6 408.7,117.2 409.2,116.3 409.8,119.1 410.3,121.9 410.8,121.8 411.3,122.4 411.9,119.3 412.4,127.9 412.9,127.5 413.4,126.3 414.0,136.9 414.5,137.7 415.0,137.9 415.6,136.7 416.1,131.6 416.6,138.2 417.1,137.3 417.7,142.1 418.2,148.7 418.7,149.2 419.3,141.5 419.8,144.1 420.3,148.2 420.8,142.4 421.4,149.1 421.9,142.3 422.4,141.2 423.0,146.3 423.5,146.6 424.0,140.9 424.5,144.9 425.1,138.9 425.6,142.9 426.1,136.6 426.6,137.0 427.2,136.9 427.7,136.5 428.2,132.1 428.8,135.8 429.3,130.0 429.8,128.7 430.3,124.3 430.9,127.5 431.4,118.4 431.9,122.0 432.5,122.6 433.0,114.8 433.5,112.8 434.0,116.3 434.6,117.0 435.1,113.8 435.6,114.8 436.2,113.3 436.7,108.1 437.2,110.7 437.7,111.2 438.3,110.7 438.8,111.9 439.3,110.0 439.8,110.5 440.4,114.3 440.9,113.9 441.4,109.1 442.0,115.2 442.5,118.0 443.0,113.6 443.5,120.2 444.1,124.5 444.6,121.6 445.1,127.2 445.7,127.9 446.2,127.5 446.7,130.3 447.2,133.5 447.8,134.6 448.3,136.3 448.8,133.4 449.4,139.6 449.9,140.6 450.4,54.3 450.9,142.9 451.5,138.7 452.0,140.0 452.5,144.4 453.0,148.2 453.6,143.8 454.1,143.5 454.6,142.8 455.2,144.9 455.7,141.8 456.2,140.9 456.7,146.5 457.3,139.4 457.8,141.7 458.3,142.5 458.9,140.8 459.4,133.9 459.9,134.8 460.4,140.4 461.0,134.1 461.5,133.0 462.0,131.5 462.6,130.7 463.1,131.4 463.6,123.9 464.1,126.8 464.7,38.3 465.2,122.7 465.7,121.6 466.2,116.5 466.8,116.1 467.3,117.6 467.8,117.2 468.4,115.1 468.9,110.7 469.4,112.2 469.9,111.4 470.5,112.5 471.0,112.2 471.5,111.0 472.1,116.4 472.6,108.1 473.1,114.7 473.6,114.8 474.2,110.8 474.7,114.6 475.2,116.1 475.8,118.9 476.3,122.7 476.8,119.7 477.3,118.7 477.9,42.9 478.4,121.5 478.9,129.4 479.4,130.1 480.0,128.6 480.5,131.6 481.0,131.5 481.6,136.7 482.1,138.9 482.6,142.5 483.1,142.1 483.7,143.1 484.2,145.1 484.7,141.7 485.3,145.0 485.8,149.0 486.3,138.3 486.8,147.1 487.4,148.4 487.9,142.1 488.4,142.2 489.0,147.8 489.5,148.1 490.0,146.3 490.5,140.2 491.1,143.0 491.6,143.2 492.1,140.1 492.6,135.7 493.2,140.8 493.7,136.8 494.2,137.8 494.8,127.2 495.3,126.5 495.8,127.0 496.3,128.1 496.9,124.4 497.4,129.7 497.9,122.1 498.5,124.6 499.0,123.1 499.5,120.2 500.0,118.0 500.6,114.4 501.1,113.1 501.6,113.2 502.2,115.5 502.7,110.8 503.2,112.3 503.7,108.7 504.3,113.9 504.8,118.6 505.3,113.0 505.8,106.7 506.4,111.5 506.9,113.8 507.4,111.9 508.0,113.8 508.5,115.0 509.0,118.7 509.5,118.6 510.1,119.7 510.6,41.7 511.1,126.1 511.7,124.5 512.2,124.1 512.7,126.6 513.2,128.6 513.8,130.3 514.3,126.7 514.8,134.1 515.4,133.6 515.9,132.8 516.4,138.9 516.9,139.6 517.5,138.8 518.0,138.2 518.5,142.5 519.0,143.1 519.6,144.3 520.1,148.0 520.6,142.4 521.2,65.2 521.7,149.5 522.2,145.2 522.7,148.8 523.3,146.4 523.8,143.0 524.3,57.7 524.9,60.2 525.4,143.7 525.9,138.1 526.4,135.9 527.0,132.2 527.5,132.0 528.0,132.1 528.6,130.9 529.1,129.6 529.6,124.9 530.1,127.7 530.7,123.1 531.2,123.1 531.7,120.7 532.2,120.4 532.8,113.0 533.3,118.7 533.8,115.3 534.4,114.1 534.9,112.4 535.4,112.0 535.9,111.4 536.5,109.5 537.0,115.5 537.5,111.5 538.1,114.7 538.6,111.2 539.1,115.1 539.6,115.0 540.2,113.4 540.7,110.6 541.2,113.6 541.8,115.4 542.3,113.8 542.8,121.1 543.3,125.4 543.9,122.7 544.4,123.9 544.9,121.7 545.4,121.1 546.0,131.5 546.5,123.6 547.0,127.5 547.6,131.0 548.1,133.8 548.6,130.1 549.1,137.5 549.7,140.2 550.2,139.9 550.7,144.8 551.3,141.2 551.8,143.5 552.3,143.1 552.8,143.6 553.4,147.6 553.9,141.8 554.4,147.8 555.0,142.9 555.5,148.9 556.0,143.5 556.5,145.9 557.1,143.0 557.6,143.8 558.1,146.7 558.6,53.0 559.2,138.5 559.7,135.8 560.2,139.6 560.8,139.7 561.3,135.0 561.8,131.6 562.3,38.3 562.9,129.8 563.4,123.9 563.9,32.8 564.5,121.0 565.0,123.6 565.5,119.6 566.0,118.9 566.6,120.7 567.1,113.7 567.6,114.6 568.2,115.1 568.7,109.5 569.2,110.6 569.7,109.8 570.3,108.7 570.8,109.7 571.3,114.7 571.8,112.7 572.4,109.6 572.9,114.5 573.4,113.2 574.0,113.1 574.5,111.4 575.0,112.8 575.5,115.1 576.1,119.1 576.6,117.8 577.1,120.3 577.7,123.6 578.2,121.3 578.7,125.2 579.2,130.0 579.8,126.6 580.3,132.1 580.8,50.5 581.4,138.5 581.9,136.2 582.4,140.0 582.9,141.4 583.5,145.1 584.0,136.0 584.5,142.8 585.0,142.6 585.6,141.2 586.1,144.8 586.6,143.6 587.2,148.6 587.7,144.7 588.2,146.2 588.7,143.6 589.3,144.0 589.8,147.3 590.3,147.8 590.9,144.8 591.4,139.3 591.9,139.0 592.4,137.7 593.0,142.5 593.5,142.7 594.0,136.0 594.6,133.6 595.1,132.7 595.6,128.6 596.1,128.3 596.7,129.1 597.2,126.7 597.7,122.5 598.2,121.2 598.8,120.0 599.3,112.7 599.8,117.8 600.4,115.6" fill="none" stroke="#2f78b5" stroke-width="2"/>
<path d="M72.4,122.1 72.9,117.9 73.4,113.7 73.9,109.5 74.5,111.6 75.0,113.7 75.5,116.8 76.1,114.1 76.6,115.1 77.1,116.2 77.6,113.5 78.2,123.3 78.7,126.6 79.2,133.6 79.8,132.4 80.3,130.8 80.8,129.5 81.3,129.8 81.9,133.4 82.4,129.8 82.9,131.1 83.4,133.9 84.0,138.4 84.5,138.2 85.0,140.5 85.6,142.4 86.1,142.3 86.6,121.4 87.1,124.1 87.7,141.8 88.2,145.1 88.7,147.9 89.3,146.2 89.8,145.3 90.3,144.6 90.8,145.1 91.4,144.0 91.9,144.5 92.4,147.3 93.0,143.0 93.5,143.9 94.0,142.2 94.5,138.1 95.1,136.4 95.6,127.8 96.1,131.5 96.6,132.1 97.2,130.1 97.7,124.9 98.2,124.7 98.8,127.2 99.3,122.2 99.8,123.3 100.3,122.0 100.9,118.0 101.4,118.7 101.9,118.5 102.5,115.8 103.0,115.3 103.5,113.7 104.0,115.5 104.6,114.8 105.1,116.7 105.6,119.4 106.2,113.2 106.7,112.0 107.2,93.8 107.7,97.4 108.3,114.2 108.8,115.4 109.3,119.7 109.8,118.3 110.4,120.8 110.9,121.7 111.4,126.2 112.0,123.6 112.5,122.6 113.0,123.3 113.5,127.5 114.1,130.1 114.6,128.0 115.1,130.6 115.7,131.6 116.2,133.0 116.7,137.5 117.2,134.6 117.8,141.5 118.3,141.3 118.8,142.1 119.4,146.8 119.9,145.5 120.4,144.1 120.9,144.2 121.5,146.6 122.0,145.1 122.5,142.1 123.0,142.1 123.6,138.1 124.1,137.0 124.6,117.5 125.2,115.0 125.7,136.8 126.2,138.4 126.7,136.6 127.3,134.9 127.8,130.7 128.3,128.1 128.9,128.1 129.4,127.6 129.9,128.1 130.4,128.2 131.0,113.3 131.5,109.4 132.0,109.6 132.6,123.9 133.1,121.9 133.6,121.7 134.1,120.6 134.7,124.5 135.2,120.7 135.7,119.4 136.2,117.0 136.8,114.7 137.3,118.5 137.8,110.6 138.4,110.3 138.9,110.2 139.4,115.1 139.9,112.8 140.5,111.8 141.0,113.2 141.5,112.9 142.1,110.4 142.6,112.9 143.1,116.5 143.6,114.0 144.2,115.1 144.7,117.5 145.2,113.4 145.8,116.2 146.3,119.5 146.8,121.3 147.3,124.7 147.9,109.3 148.4,111.0 148.9,131.5 149.4,133.5 150.0,134.0 150.5,134.4 151.0,134.5 151.6,134.3 152.1,135.7 152.6,136.3 153.1,139.0 153.7,140.9 154.2,139.1 154.7,145.3 155.3,144.0 155.8,135.9 156.3,142.3 156.8,138.5 157.4,143.7 157.9,142.0 158.4,137.3 159.0,133.8 159.5,136.9 160.0,139.9 160.5,142.1 161.1,138.0 161.6,137.2 162.1,135.3 162.6,132.8 163.2,130.1 163.7,127.3 164.2,125.9 164.8,128.8 165.3,122.9 165.8,128.7 166.3,122.7 166.9,105.2 167.4,103.7 167.9,103.2 168.5,119.6 169.0,117.8 169.5,117.0 170.0,118.3 170.6,114.4 171.1,115.0 171.6,110.7 172.2,111.3 172.7,113.2 173.2,112.0 173.7,110.1 174.3,113.4 174.8,100.8 175.3,97.6 175.8,115.6 176.4,118.6 176.9,118.7 177.4,122.6 178.0,129.1 178.5,132.4 179.0,130.2 179.5,128.2 180.1,127.2 180.6,127.5 181.1,132.2 181.7,131.2 182.2,129.7 182.7,133.6 183.2,132.7 183.8,135.6 184.3,136.7 184.8,137.2 185.4,142.5 185.9,139.2 186.4,142.7 186.9,143.5 187.5,145.1 188.0,143.9 188.5,143.0 189.0,143.3 189.6,139.8 190.1,139.9 190.6,141.5 191.2,148.7 191.7,147.3 192.2,145.9 192.7,146.1 193.3,145.8 193.8,141.5 194.3,136.7 194.9,130.6 195.4,127.5 195.9,129.4 196.4,128.0 197.0,130.6 197.5,126.9 198.0,124.7 198.6,125.0 199.1,123.7 199.6,122.7 200.1,122.6 200.7,117.3 201.2,108.6 201.7,107.6 202.2,106.1 202.8,107.1 203.3,109.0 203.8,136.8 204.4,174.7 204.9,195.6 205.4,195.5 205.9,194.5 206.5,194.3 207.0,197.4 207.5,198.7 208.1,196.1 208.6,195.4 209.1,196.6 209.6,197.0 210.2,196.9 210.7,195.8 211.2,195.2 211.8,198.4 212.3,196.1 212.8,194.2 213.3,195.2 213.9,197.8 214.4,195.7 214.9,195.0 215.4,137.7 216.0,139.2 216.5,139.6 217.0,143.2 217.6,137.1 218.1,137.0 218.6,139.5 219.1,142.0 219.7,136.7 220.2,133.1 220.7,137.3 221.3,138.3 221.8,136.7 222.3,141.6 222.8,143.7 223.4,140.1 223.9,142.5 224.4,143.3 225.0,146.0 225.5,146.2 226.0,142.3 226.5,142.9 227.1,144.2 227.6,143.1 228.1,135.7 228.6,133.8 229.2,133.9 229.7,131.7 230.2,128.9 230.8,127.2 231.3,130.4 231.8,127.1 232.3,125.6 232.9,107.7 233.4,109.9 233.9,118.8 234.5,118.9 235.0,121.8 235.5,116.1 236.0,116.4 236.6,114.3 237.1,114.0 237.6,110.6 238.2,108.0 238.7,106.1 239.2,105.8 239.7,111.7 240.3,116.5 240.8,115.5 241.3,117.9 241.8,116.5 242.4,94.5 242.9,98.8 243.4,123.5 244.0,126.1 244.5,127.9 245.0,127.9 245.5,126.0 246.1,123.4 246.6,127.7 247.1,130.3 247.7,127.3 248.2,127.1 248.7,129.0 249.2,137.4 249.8,140.6 250.3,140.3 250.8,142.2 251.4,114.3 251.9,115.7 252.4,139.4 252.9,143.6 253.5,146.7 254.0,148.0 254.5,149.0 255.0,148.6 255.6,146.7 256.1,145.5 256.6,142.4 257.2,146.0 257.7,144.4 258.2,142.8 258.7,137.9 259.3,138.5 259.8,137.2 260.3,138.8 260.9,136.4 261.4,134.3 261.9,134.9 262.4,134.4 263.0,132.6 263.5,115.0 264.0,116.5 264.6,112.0 265.1,125.7 265.6,119.2 266.1,115.1 266.7,116.5 267.2,117.8 267.7,110.6 268.2,93.2 268.8,92.5 269.3,110.9 269.8,111.5 270.4,109.4 270.9,108.4 271.4,111.3 271.9,108.3 272.5,108.5 273.0,112.0 273.5,109.9 274.1,111.5 274.6,110.5 275.1,113.5 275.6,113.7 276.2,119.3 276.7,118.8 277.2,123.6 277.8,123.3 278.3,130.4 278.8,129.8 279.3,127.8 279.9,127.3 280.4,125.5 280.9,130.4 281.4,127.7 282.0,125.9 282.5,132.1 283.0,136.1 283.6,138.8 284.1,139.7 284.6,140.0 285.1,147.2 285.7,145.0 286.2,145.6 286.7,128.4 287.3,125.3 287.8,146.0 288.3,142.9 288.8,142.0 289.4,143.4 289.9,140.4 290.4,139.0 291.0,141.0 291.5,145.0 292.0,145.0 292.5,141.7 293.1,141.1 293.6,135.1 294.1,134.1 294.6,133.1 295.2,117.2 295.7,118.8 296.2,131.7 296.8,131.8 297.3,135.7 297.8,136.9 298.3,130.9 298.9,129.1 299.4,126.5 299.9,127.8 300.5,126.2 301.0,121.2 301.5,119.0 302.0,118.8 302.6,113.3 303.1,113.1 303.6,113.6 304.2,110.2 304.7,114.9 305.2,112.8 305.7,115.5 306.3,116.9 306.8,117.8 307.3,116.7 307.8,116.2 308.4,115.5 308.9,115.6 309.4,113.0 310.0,110.7 310.5,111.8 311.0,113.0 311.5,117.1 312.1,122.5 312.6,122.6 313.1,124.6 313.7,124.4 314.2,131.4 314.7,125.6 315.2,131.7 315.8,133.3 316.3,132.4 316.8,138.1 317.4,140.5 317.9,146.3 318.4,149.3 318.9,153.0 319.5,150.7 320.0,148.6 320.5,148.6 321.0,144.5 321.6,141.2 322.1,142.1 322.6,143.2 323.2,144.0 323.7,144.8 324.2,140.7 324.7,140.1 325.3,140.8 325.8,140.7 326.3,138.3 326.9,138.5 327.4,136.5 327.9,135.5 328.4,130.7 329.0,127.3 329.5,130.8 330.0,129.8 330.6,126.5 331.1,126.5 331.6,122.9 332.1,121.1 332.7,118.7 333.2,118.3 333.7,116.8 334.2,114.8 334.8,118.2 335.3,119.2 335.8,120.0 336.4,113.7 336.9,112.4 337.4,111.2 337.9,97.5 338.5,99.1 339.0,114.3 339.5,111.7 340.1,113.2 340.6,109.5 341.1,110.5 341.6,89.6 342.2,91.7 342.7,93.3 343.2,116.7 343.8,114.2 344.3,110.7 344.8,117.4 345.3,119.2 345.9,119.8 346.4,124.8 346.9,128.3 347.4,130.9 348.0,138.1 348.5,136.2 349.0,136.8 349.6,137.8 350.1,138.3 350.6,138.6 351.1,133.8 351.7,135.8 352.2,135.8 352.7,139.4 353.3,139.9 353.8,142.0 354.3,143.2 354.8,145.9 355.4,147.7 355.9,145.6 356.4,143.2 357.0,141.9 357.5,143.5 358.0,142.0 358.5,147.8 359.1,127.3 359.6,125.8 360.1,139.2 360.6,134.8 361.2,135.1 361.7,131.5 362.2,131.8 362.8,129.2 363.3,129.2 363.8,127.0 364.3,122.0 364.9,123.3 365.4,123.7 365.9,123.0 366.5,120.5 367.0,112.2 367.5,114.2 368.0,119.1 368.6,119.1 369.1,121.3 369.6,120.3 370.2,118.0 370.7,118.7 371.2,118.6 371.7,121.6 372.3,118.7 372.8,119.1 373.3,114.9 373.8,112.0 374.4,115.0 374.9,116.3 375.4,116.5 376.0,115.2 376.5,120.8 377.0,121.3 377.5,117.1 378.1,119.4 378.6,120.7 379.1,122.7 379.7,127.6 380.2,126.3 380.7,127.4 381.2,128.9 381.8,129.0 382.3,129.2 382.8,136.6 383.4,136.3 383.9,139.1 384.4,139.5 384.9,142.3 385.5,144.9 386.0,142.3 386.5,143.0 387.0,144.1 387.6,145.0 388.1,144.7 388.6,144.7 389.2,150.4 389.7,150.8 390.2,126.6 390.7,122.7 391.3,140.6 391.8,142.6 392.3,136.4 392.9,136.1 393.4,134.5 393.9,135.5 394.4,136.0 395.0,130.8 395.5,130.6 396.0,129.8 396.6,125.6 397.1,120.6 397.6,124.5 398.1,123.8 398.7,122.5 399.2,116.5 399.7,110.1 400.2,111.3 400.8,110.9 401.3,109.1 401.8,106.9 402.4,108.8 402.9,107.2 403.4,109.8 403.9,116.7 404.5,118.7 405.0,116.2 405.5,113.0 406.1,118.4 406.6,121.5 407.1,119.6 407.6,126.9 408.2,122.6 408.7,118.6 409.2,126.0 409.8,122.5 410.3,122.6 410.8,119.1 411.3,119.7 411.9,121.9 412.4,123.0 412.9,122.2 413.4,123.9 414.0,126.0 414.5,131.7 415.0,131.5 415.6,132.8 416.1,129.5 416.6,132.0 417.1,134.4 417.7,137.8 418.2,137.1 418.7,139.0 419.3,141.9 419.8,138.3 420.3,135.2 420.8,138.5 421.4,142.4 421.9,139.8 422.4,142.6 423.0,135.4 423.5,137.2 424.0,135.5 424.5,139.8 425.1,139.4 425.6,136.0 426.1,134.7 426.6,135.8 427.2,128.7 427.7,127.3 428.2,128.3 428.8,129.5 429.3,129.2 429.8,124.4 430.3,125.8 430.9,124.4 431.4,125.2 431.9,120.1 432.5,119.5 433.0,116.2 433.5,114.2 434.0,115.3 434.6,112.7 435.1,109.9 435.6,113.0 436.2,110.5 436.7,101.4 437.2,104.3 437.7,104.1 438.3,109.0 438.8,108.3 439.3,110.5 439.8,108.9 440.4,110.0 440.9,114.0 441.4,111.5 442.0,113.2 442.5,116.9 443.0,117.3 443.5,120.6 444.1,120.1 444.6,121.2 445.1,123.2 445.7,122.6 446.2,127.4 446.7,125.8 447.2,132.5 447.8,128.7 448.3,129.9 448.8,132.3 449.4,135.6 449.9,135.1 450.4,136.9 450.9,120.3 451.5,118.6 452.0,139.3 452.5,140.9 453.0,140.5 453.6,138.6 454.1,140.2 454.6,140.7 455.2,141.2 455.7,139.7 456.2,136.5 456.7,140.0 457.3,140.4 457.8,140.2 458.3,138.2 458.9,134.0 459.4,134.3 459.9,133.6 460.4,130.4 461.0,133.6 461.5,134.4 462.0,133.7 462.6,131.7 463.1,129.1 463.6,128.7 464.1,122.2 464.7,123.2 465.2,103.5 465.7,99.2 466.2,115.3 466.8,115.0 467.3,113.5 467.8,111.0 468.4,111.1 468.9,109.3 469.4,111.9 469.9,111.3 470.5,115.2 471.0,116.2 471.5,117.6 472.1,112.7 472.6,113.6 473.1,112.5 473.6,115.0 474.2,115.3 474.7,116.0 475.2,118.3 475.8,116.0 476.3,121.1 476.8,119.4 477.3,113.4 477.9,118.2 478.4,101.7 478.9,107.6 479.4,126.8 480.0,132.3 480.5,130.8 481.0,132.9 481.6,138.4 482.1,141.4 482.6,144.8 483.1,144.3 483.7,141.2 484.2,142.4 484.7,145.5 485.3,147.1 485.8,146.0 486.3,151.9 486.8,148.5 487.4,146.5 487.9,152.3 488.4,147.2 489.0,150.5 489.5,149.2 490.0,144.4 490.5,147.9 491.1,150.7 491.6,150.7 492.1,150.2 492.6,147.1 493.2,145.4 493.7,143.7 494.2,141.9 494.8,139.4 495.3,138.9 495.8,135.0 496.3,132.5 496.9,132.9 497.4,125.4 497.9,127.4 498.5,123.3 499.0,123.8 499.5,120.9 500.0,118.1 500.6,114.8 501.1,110.7 501.6,113.3 502.2,105.5 502.7,105.9 503.2,109.3 503.7,113.2 504.3,106.6 504.8,103.5 505.3,105.6 505.8,105.2 506.4,103.7 506.9,106.0 507.4,109.3 508.0,111.0 508.5,110.4 509.0,112.3 509.5,117.4 510.1,116.5 510.6,122.6 511.1,107.1 511.7,104.2 512.2,123.0 512.7,124.1 513.2,125.7 513.8,124.8 514.3,127.4 514.8,134.6 515.4,134.7 515.9,143.7 516.4,148.0 516.9,142.2 517.5,139.5 518.0,141.6 518.5,142.2 519.0,142.5 519.6,140.4 520.1,143.4 520.6,146.0 521.2,147.2 521.7,130.6 522.2,129.3 522.7,145.3 523.3,142.6 523.8,144.9 524.3,143.9 524.9,125.2 525.4,126.1 525.9,120.6 526.4,139.4 527.0,140.4 527.5,138.1 528.0,138.6 528.6,134.4 529.1,130.2 529.6,126.2 530.1,128.2 530.7,126.9 531.2,120.4 531.7,120.5 532.2,116.4 532.8,112.3 533.3,116.5 533.8,112.6 534.4,110.7 534.9,108.8 535.4,105.1 535.9,105.4 536.5,106.5 537.0,106.0 537.5,108.1 538.1,107.6 538.6,113.7 539.1,108.8 539.6,111.2 540.2,110.4 540.7,110.7 541.2,111.7 541.8,112.7 542.3,114.0 542.8,119.7 543.3,121.6 543.9,118.8 544.4,122.9 544.9,126.5 545.4,121.4 546.0,120.4 546.5,119.1 547.0,122.6 547.6,124.9 548.1,125.8 548.6,127.2 549.1,130.4 549.7,136.6 550.2,139.6 550.7,144.1 551.3,139.8 551.8,141.8 552.3,142.8 552.8,142.5 553.4,143.0 553.9,142.1 554.4,144.3 555.0,148.2 555.5,142.6 556.0,144.6 556.5,145.2 557.1,146.3 557.6,146.2 558.1,144.4 558.6,140.9 559.2,125.2 559.7,122.6 560.2,140.0 560.8,134.8 561.3,136.8 561.8,134.5 562.3,130.7 562.9,111.3 563.4,108.6 563.9,127.8 564.5,112.3 565.0,110.6 565.5,121.5 566.0,119.6 566.6,119.6 567.1,118.7 567.6,116.2 568.2,112.1 568.7,110.0 569.2,108.5 569.7,105.2 570.3,110.7 570.8,114.5 571.3,119.6 571.8,115.6 572.4,120.7 572.9,118.9 573.4,115.8 574.0,119.2 574.5,120.2 575.0,120.2 575.5,118.1 576.1,122.6 576.6,121.6 577.1,120.3 577.7,121.2 578.2,122.3 578.7,120.7 579.2,122.5 579.8,125.0 580.3,128.0 580.8,128.1 581.4,116.4 581.9,116.5 582.4,133.0 582.9,132.0 583.5,136.5 584.0,137.9 584.5,138.4 585.0,138.8 585.6,137.4 586.1,138.3 586.6,137.8 587.2,134.7 587.7,135.1 588.2,140.2 588.7,144.9 589.3,142.9 589.8,143.8 590.3,142.6 590.9,142.6 591.4,138.5 591.9,135.4 592.4,138.7 593.0,137.1 593.5,137.1 594.0,139.2 594.6,135.4 595.1,134.1 595.6,131.3 596.1,123.5 596.7,120.3 597.2,118.0 597.7,119.7 598.2,122.6 598.8,118.2 599.3,118.6 599.8,117.7 600.4,117.8" fill="none" stroke="#f0882a" stroke-width="2.3"/>
</g>
<g fill="none">
<line x1="45.5" y1="2.3" x2="627.8" y2="2.3" stroke="#111" stroke-width="1.3"/>
<line x1="46.3" y1="2" x2="46.3" y2="234" stroke="#444" stroke-width="1.7"/>
<line x1="627.3" y1="2" x2="627.3" y2="234" stroke="#222" stroke-width="1.3"/>
<line x1="45.5" y1="233.3" x2="628" y2="233.3" stroke="#111" stroke-width="1.4"/>
<path d="M42,2.1H46M42,44.2H46M42,86.3H46M42,128.4H46M42,170.5H46M42,212.6H46" stroke="#333" stroke-width="1"/>
<path d="M72.36,233.3V237.5M600.36,233.3V237.5" stroke="#333" stroke-width="1"/><path d="M177.96,233.3V237M283.56,233.3V237M389.16,233.3V237M494.76,233.3V237" stroke="#bbb" stroke-width="1"/>
</g>
<g class="t" text-anchor="end">
<text x="37.6" y="6">3</text>
<text x="37.6" y="48.2">2</text>
<text x="37.6" y="90.3">1</text>
<text x="37.6" y="132.4">0</text>
<text x="37.6" y="174.5" style="fill:#c8c8c8" textLength="11.5" lengthAdjust="spacingAndGlyphs">−1</text>
<text x="37.6" y="216.6" textLength="12.8" lengthAdjust="spacingAndGlyphs">−2</text>
</g>
<g class="t" text-anchor="middle">
<text x="72.36" y="249">0</text>
<text x="177.96" y="249">200</text>
<text x="283.56" y="249">400</text>
<text x="389.16" y="249">600</text>
<text x="494.76" y="249">800</text>
<text x="600.36" y="249">1000</text>
</g>
<rect x="424.7" y="171.4" width="196.6" height="56.3" rx="2.5" fill="#fff" fill-opacity="0.85" stroke="#dcdcdc" stroke-width="1"/>
<line x1="428.1" y1="180.5" x2="450.5" y2="180.5" stroke="#2f78b5" stroke-width="1.2"/>
<line x1="428.1" y1="197.7" x2="450.5" y2="197.7" stroke="#f0882a" stroke-width="1.2"/>
<rect x="428.1" y="213" width="22.4" height="7.3" fill="#c8c8fa"/>
<g class="lg">
<text x="458" y="184.1" textLength="110" lengthAdjust="spacingAndGlyphs">Observed time series</text>
<text x="458" y="201.5" textLength="112.5" lengthAdjust="spacingAndGlyphs">Mean prediction from</text>
<text x="458" y="220.3" textLength="142" lengthAdjust="spacingAndGlyphs">Prediction uncertainty from</text>
</g>
<path d="M574.2,201.5 C575.4,201.1 577.1,197.3 578.0,193.3 L579.4,200.5 L584.0,193.3 C583.6,196.3 583.4,199.3 584.8,201.0" fill="none" stroke="#3a3a3a" stroke-width="0.95" stroke-linejoin="round" stroke-linecap="round"/>
<path d="M603.7,220.3 C605.1,219.9 607.0,216.1 608.1,212.1 L609.6,219.3 L614.9,212.1 C614.4,215.1 614.2,218.1 615.8,219.8" fill="none" stroke="#3a3a3a" stroke-width="0.95" stroke-linejoin="round" stroke-linecap="round"/>

<!-- caption a -->
<text class="cap" x="126.8" y="296" style="font-size:24.15px">(a) The fit of a simple MLP without LAI.</text>

<!-- ============ CHART 2 ============ -->
<g clip-path="url(#c2)">
<path d="M65.0,447.6 65.6,446.0 66.1,444.4 66.7,442.8 67.2,441.2 67.8,439.6 68.3,438.0 68.9,436.3 69.4,442.1 70.0,442.1 70.5,443.4 71.1,444.9 71.6,447.4 72.1,449.4 72.7,451.0 73.2,452.1 73.8,453.3 74.3,454.9 74.9,457.5 75.4,458.2 76.0,459.7 76.5,461.1 77.1,462.4 77.6,463.7 78.1,464.3 78.7,465.5 79.2,466.2 79.8,467.3 80.3,467.3 80.9,467.9 81.4,469.1 82.0,467.8 82.5,468.0 83.1,467.1 83.6,467.2 84.1,466.5 84.7,465.6 85.2,464.8 85.8,464.0 86.3,463.6 86.9,460.4 87.4,460.9 88.0,458.8 88.5,456.8 89.1,455.3 89.6,453.7 90.1,451.9 90.7,450.1 91.2,448.9 91.8,446.0 92.3,446.5 92.9,444.4 93.4,443.3 94.0,442.0 94.5,440.4 95.1,438.6 95.6,438.8 96.1,437.9 96.7,436.4 97.2,436.0 97.8,434.8 98.3,435.0 98.9,435.4 99.4,435.7 100.0,435.6 100.5,436.2 101.1,437.4 101.6,437.4 102.1,438.3 102.7,439.3 103.2,440.5 103.8,440.6 104.3,442.4 104.9,443.7 105.4,445.9 106.0,447.7 106.5,448.9 107.1,450.2 107.6,452.1 108.1,453.7 108.7,454.7 109.2,456.6 109.8,458.8 110.3,459.9 110.9,461.4 111.4,462.3 112.0,464.1 112.5,464.7 113.1,465.2 113.6,466.3 114.1,467.4 114.7,467.8 115.2,467.7 115.8,467.7 116.3,467.6 116.9,467.9 117.4,468.3 118.0,466.4 118.5,466.3 119.1,465.5 119.6,464.7 120.1,464.4 120.7,462.8 121.2,461.3 121.8,459.5 122.3,458.6 122.9,458.8 123.4,455.7 124.0,453.8 124.5,451.7 125.1,450.4 125.6,447.8 126.1,446.8 126.7,445.3 127.2,444.0 127.8,443.8 128.3,441.3 128.9,440.2 129.4,439.7 130.0,438.1 130.5,437.3 131.1,437.1 131.6,436.3 132.1,436.0 132.7,435.5 133.2,435.7 133.8,435.2 134.3,436.8 134.9,436.3 135.4,437.5 136.0,437.6 136.5,437.9 137.1,439.1 137.6,440.3 138.1,441.4 138.7,441.9 139.2,444.7 139.8,445.1 140.3,447.9 140.9,448.9 141.4,450.2 142.0,452.4 142.5,453.4 143.1,454.8 143.6,457.3 144.1,458.3 144.7,459.9 145.2,462.1 145.8,462.4 146.3,463.9 146.9,463.9 147.4,466.0 148.0,465.4 148.5,467.2 149.1,466.4 149.6,467.5 150.1,467.8 150.7,467.6 151.2,467.4 151.8,466.8 152.3,466.2 152.9,466.7 153.4,466.4 154.0,466.3 154.5,464.0 155.1,462.3 155.6,461.2 156.1,460.0 156.7,458.8 157.2,457.5 157.8,455.8 158.3,453.8 158.9,453.3 159.4,450.4 160.0,449.9 160.5,447.7 161.1,446.4 161.6,444.7 162.1,443.7 162.7,442.4 163.2,440.7 163.8,440.0 164.3,437.2 164.9,437.8 165.4,437.2 166.0,436.6 166.5,436.4 167.1,436.9 167.6,435.6 168.1,435.4 168.7,436.5 169.2,436.1 169.8,437.3 170.3,437.4 170.9,438.0 171.4,438.9 172.0,440.0 172.5,441.8 173.1,442.2 173.6,444.3 174.1,445.4 174.7,446.7 175.2,448.8 175.8,450.9 176.3,451.6 176.9,454.1 177.4,455.6 178.0,457.3 178.5,457.8 179.1,459.7 179.6,462.2 180.2,461.9 180.7,462.4 181.2,463.6 181.8,465.8 182.3,466.3 182.9,466.7 183.4,467.0 184.0,467.8 184.5,468.6 185.1,467.6 185.6,467.6 186.2,468.3 186.7,467.3 187.2,466.4 187.8,465.8 188.3,464.6 188.9,463.5 189.4,462.4 190.0,461.5 190.5,460.8 191.1,458.4 191.6,456.5 192.2,454.6 192.7,454.1 193.2,452.5 193.8,450.1 194.3,448.5 194.9,447.4 195.4,445.7 196.0,445.0 196.5,442.9 197.1,442.3 197.6,440.7 198.2,439.5 198.7,438.7 199.2,438.7 199.8,437.3 200.3,436.1 200.9,435.9 201.4,435.8 202.0,435.3 202.5,435.2 203.1,435.3 203.6,436.5 204.2,436.6 204.7,437.5 205.2,438.6 205.8,439.9 206.3,440.2 206.9,441.8 207.4,441.6 208.0,444.1 208.5,445.7 209.1,447.3 209.6,447.7 210.2,450.7 210.7,452.0 211.2,453.9 211.8,455.2 212.3,456.7 212.9,457.6 213.4,460.4 214.0,461.0 214.5,461.5 215.1,463.7 215.6,464.6 216.2,465.9 216.7,467.6 217.2,467.0 217.8,466.8 218.3,468.0 218.9,469.0 219.4,467.9 220.0,467.9 220.5,467.1 221.1,466.7 221.6,466.7 222.2,465.6 222.7,465.8 223.2,463.3 223.8,462.7 224.3,460.9 224.9,459.6 225.4,458.9 226.0,457.3 226.5,456.1 227.1,455.2 227.6,452.5 228.2,450.8 228.7,449.8 229.2,447.3 229.8,446.1 230.3,444.4 230.9,443.6 231.4,442.8 232.0,440.2 232.5,439.2 233.1,438.5 233.6,437.8 234.2,437.0 234.7,436.4 235.2,436.1 235.8,436.6 236.3,435.1 236.9,436.3 237.4,435.9 238.0,436.3 238.5,436.5 239.1,438.2 239.6,437.5 240.2,438.7 240.7,439.8 241.2,440.7 241.8,443.1 242.3,445.7 242.9,445.3 243.4,446.3 244.0,448.0 244.5,450.5 245.1,451.9 245.6,453.3 246.2,456.0 246.7,457.0 247.2,458.5 247.8,458.8 248.3,461.3 248.9,461.4 249.4,463.4 250.0,465.4 250.5,464.3 251.1,466.8 251.6,466.6 252.2,466.5 252.7,468.1 253.2,468.6 253.8,467.5 254.3,467.9 254.9,468.2 255.4,467.7 256.0,466.8 256.5,465.3 257.1,465.1 257.6,463.6 258.2,461.9 258.7,460.9 259.2,459.4 259.8,458.1 260.3,458.1 260.9,455.1 261.4,453.9 262.0,452.6 262.5,451.4 263.1,450.1 263.6,448.3 264.2,446.1 264.7,445.2 265.2,443.6 265.8,442.2 266.3,440.3 266.9,439.7 267.4,438.6 268.0,436.9 268.5,437.1 269.1,436.0 269.6,436.4 270.2,435.4 270.7,435.4 271.2,435.4 271.8,436.0 272.3,436.6 272.9,436.8 273.4,437.5 274.0,437.6 274.5,438.6 275.1,440.8 275.6,441.0 276.2,442.9 276.7,443.8 277.2,445.7 277.8,447.8 278.3,448.0 278.9,449.9 279.4,452.4 280.0,454.4 280.5,455.3 281.1,457.2 281.6,458.3 282.2,459.2 282.7,460.2 283.2,462.4 283.8,462.7 284.3,463.9 284.9,465.7 285.4,467.1 286.0,466.5 286.5,467.1 287.1,466.6 287.6,467.2 288.2,467.6 288.7,467.0 289.3,468.2 289.8,467.1 290.3,466.7 290.9,464.9 291.4,464.6 292.0,465.5 292.5,462.1 293.1,462.0 293.6,459.8 294.2,459.0 294.7,457.2 295.3,455.4 295.8,454.0 296.3,453.0 296.9,450.2 297.4,449.1 298.0,447.7 298.5,445.8 299.1,444.9 299.6,442.2 300.2,441.8 300.7,440.5 301.3,439.3 301.8,439.0 302.3,438.2 302.9,436.8 303.4,436.1 304.0,435.2 304.5,435.4 305.1,436.0 305.6,435.2 306.2,435.3 306.7,435.6 307.3,436.4 307.8,437.9 308.3,437.5 308.9,439.4 309.4,439.8 310.0,442.1 310.5,442.2 311.1,444.4 311.6,444.9 312.2,446.0 312.7,447.9 313.3,450.7 313.8,452.2 314.3,453.8 314.9,454.6 315.4,456.4 316.0,458.0 316.5,459.4 317.1,460.6 317.6,461.9 318.2,462.5 318.7,464.5 319.3,465.3 319.8,467.2 320.3,467.6 320.9,467.8 321.4,468.4 322.0,467.9 322.5,467.5 323.1,468.1 323.6,467.9 324.2,467.4 324.7,466.5 325.3,466.1 325.8,464.7 326.3,463.8 326.9,462.6 327.4,461.2 328.0,460.2 328.5,458.7 329.1,456.4 329.6,455.8 330.2,453.8 330.7,452.5 331.3,451.2 331.8,449.6 332.3,448.2 332.9,446.2 333.4,445.0 334.0,443.5 334.5,441.3 335.1,440.8 335.6,439.0 336.2,438.4 336.7,437.2 337.3,437.2 337.8,436.2 338.3,434.5 338.9,435.2 339.4,435.0 340.0,435.4 340.5,435.3 341.1,436.7 341.6,437.0 342.2,437.0 342.7,437.6 343.3,439.2 343.8,440.2 344.3,441.5 344.9,442.7 345.4,444.6 346.0,446.2 346.5,447.0 347.1,449.4 347.6,450.6 348.2,452.1 348.7,453.9 349.3,454.8 349.8,456.8 350.3,458.1 350.9,460.0 351.4,461.3 352.0,461.9 352.5,463.2 353.1,464.7 353.6,465.2 354.2,466.1 354.7,466.8 355.3,466.6 355.8,468.0 356.3,467.8 356.9,467.8 357.4,468.0 358.0,468.2 358.5,466.8 359.1,466.5 359.6,465.8 360.2,465.0 360.7,464.0 361.3,463.3 361.8,461.5 362.3,461.2 362.9,458.9 363.4,458.1 364.0,456.0 364.5,453.9 365.1,452.8 365.6,451.2 366.2,449.1 366.7,447.9 367.3,446.5 367.8,445.0 368.3,442.5 368.9,441.6 369.4,440.5 370.0,440.2 370.5,438.3 371.1,438.4 371.6,436.7 372.2,436.9 372.7,434.9 373.3,436.5 373.8,434.9 374.3,435.1 374.9,436.7 375.4,436.2 376.0,435.9 376.5,436.7 377.1,438.9 377.6,439.3 378.2,440.7 378.7,441.8 379.3,442.9 379.8,443.0 380.3,445.3 380.9,447.0 381.4,448.7 382.0,449.8 382.5,451.4 383.1,453.8 383.6,454.2 384.2,457.1 384.7,458.2 385.3,459.3 385.8,460.0 386.3,462.4 386.9,463.2 387.4,463.8 388.0,465.1 388.5,465.6 389.1,466.4 389.6,467.3 390.2,467.5 390.7,467.5 391.3,468.1 391.8,467.1 392.4,468.7 392.9,467.7 393.4,465.9 394.0,465.7 394.5,465.4 395.1,463.8 395.6,462.3 396.2,462.0 396.7,459.9 397.3,459.0 397.8,457.5 398.4,455.9 398.9,453.7 399.4,453.2 400.0,451.2 400.5,449.1 401.1,448.5 401.6,447.1 402.2,444.5 402.7,443.4 403.3,442.1 403.8,440.7 404.4,440.1 404.9,437.1 405.4,438.2 406.0,437.2 406.5,437.1 407.1,436.1 407.6,434.8 408.2,435.5 408.7,435.2 409.3,436.0 409.8,435.1 410.4,436.5 410.9,437.9 411.4,437.7 412.0,439.2 412.5,439.8 413.1,441.2 413.6,442.4 414.2,443.9 414.7,445.9 415.3,447.7 415.8,448.0 416.4,450.1 416.9,451.5 417.4,453.6 418.0,456.0 418.5,457.2 419.1,457.3 419.6,459.9 420.2,461.1 420.7,462.9 421.3,463.6 421.8,464.6 422.4,465.5 422.9,466.3 423.4,467.2 424.0,467.7 424.5,467.8 425.1,467.8 425.6,468.1 426.2,467.0 426.7,467.6 427.3,467.2 427.8,467.0 428.4,465.4 428.9,465.6 429.4,464.9 430.0,463.4 430.5,461.4 431.1,461.0 431.6,458.3 432.2,457.5 432.7,456.7 433.3,454.4 433.8,451.8 434.4,451.5 434.9,450.1 435.4,447.6 436.0,445.6 436.5,444.3 437.1,443.6 437.6,441.9 438.2,440.6 438.7,439.0 439.3,437.5 439.8,437.8 440.4,436.3 440.9,436.6 441.4,435.6 442.0,436.1 442.5,435.9 443.1,435.3 443.6,436.2 444.2,435.6 444.7,436.9 445.3,437.2 445.8,438.1 446.4,439.2 446.9,440.0 447.4,440.7 448.0,440.9 448.5,444.5 449.1,445.2 449.6,447.0 450.2,448.9 450.7,449.9 451.3,452.1 451.8,453.3 452.4,454.2 452.9,457.5 453.4,457.9 454.0,459.2 454.5,461.3 455.1,461.9 455.6,463.2 456.2,464.6 456.7,464.8 457.3,466.9 457.8,466.6 458.4,467.5 458.9,468.3 459.4,468.1 460.0,468.2 460.5,467.5 461.1,468.5 461.6,467.4 462.2,466.9 462.7,465.1 463.3,465.7 463.8,463.5 464.4,463.9 464.9,461.5 465.4,460.5 466.0,458.8 466.5,457.8 467.1,456.9 467.6,455.2 468.2,452.1 468.7,451.0 469.3,449.9 469.8,447.4 470.4,446.7 470.9,445.2 471.4,444.1 472.0,441.5 472.5,439.8 473.1,440.2 473.6,438.5 474.2,437.3 474.7,435.9 475.3,437.7 475.8,435.9 476.4,435.3 476.9,436.3 477.4,435.3 478.0,435.6 478.5,435.7 479.1,436.9 479.6,437.0 480.2,438.4 480.7,438.7 481.3,440.0 481.8,441.4 482.4,443.2 482.9,443.0 483.4,444.8 484.0,446.4 484.5,448.8 485.1,450.2 485.6,450.8 486.2,452.9 486.7,455.3 487.3,456.4 487.8,457.9 488.4,459.5 488.9,461.3 489.4,461.5 490.0,463.0 490.5,464.5 491.1,466.2 491.6,466.5 492.2,466.9 492.7,467.0 493.3,468.0 493.8,467.4 494.4,468.0 494.9,468.3 495.4,469.1 496.0,467.9 496.5,467.5 497.1,466.0 497.6,464.9 498.2,463.4 498.7,463.0 499.3,462.4 499.8,459.2 500.4,458.8 500.9,457.6 501.4,456.1 502.0,455.1 502.5,452.4 503.1,450.9 503.6,448.7 504.2,447.4 504.7,445.9 505.3,444.2 505.8,443.6 506.4,442.3 506.9,440.9 507.5,440.3 508.0,438.7 508.5,437.9 509.1,436.7 509.6,436.4 510.2,436.9 510.7,435.6 511.3,434.8 511.8,436.5 512.4,436.1 512.9,436.1 513.5,437.3 514.0,437.5 514.5,438.0 515.1,439.6 515.6,439.8 516.2,441.0 516.7,443.1 517.3,443.8 517.8,444.7 518.4,446.9 518.9,448.1 519.5,449.6 520.0,451.7 520.5,452.7 521.1,454.6 521.6,456.9 522.2,457.6 522.7,458.9 523.3,460.4 523.8,462.4 524.4,463.0 524.9,463.7 525.5,465.2 526.0,465.5 526.5,466.2 527.1,467.4 527.6,467.4 528.2,468.1 528.7,467.5 529.3,468.0 529.8,468.0 530.4,467.3 530.9,466.7 531.5,465.8 532.0,464.8 532.5,464.7 533.1,463.3 533.6,461.6 534.2,460.2 534.7,459.0 535.3,456.1 535.8,455.4 536.4,454.4 536.9,452.4 537.5,450.4 538.0,449.3 538.5,448.8 539.1,446.3 539.6,444.8 540.2,442.3 540.7,443.0 541.3,440.0 541.8,439.8 542.4,438.2 542.9,437.9 543.5,436.9 544.0,435.8 544.5,435.9 545.1,435.1 545.6,435.5 546.2,435.7 546.7,435.8 547.3,436.3 547.8,436.6 548.4,436.5 548.9,438.6 549.5,439.7 550.0,440.0 550.5,440.2 551.1,441.8 551.6,443.1 552.2,444.6 552.7,447.1 553.3,448.2 553.8,451.3 554.4,451.8 554.9,452.8 555.5,455.6 556.0,457.4 556.5,458.5 557.1,459.2 557.6,460.1 558.2,460.7 558.7,462.5 559.3,465.1 559.8,466.5 560.4,466.0 560.9,466.2 561.5,468.2 562.0,468.0 562.5,468.2 563.1,468.0 563.6,468.0 564.2,467.4 564.7,466.7 565.3,466.6 565.8,465.5 566.4,464.0 566.9,464.6 567.5,463.5 568.0,461.5 568.5,459.4 569.1,458.9 569.6,456.9 570.2,456.1 570.7,453.9 571.3,453.1 571.8,450.8 572.4,449.3 572.9,447.7 573.5,445.6 574.0,444.3 574.5,443.7 575.1,441.6 575.6,441.7 576.2,439.1 576.7,437.2 577.3,437.4 577.8,436.7 578.4,436.3 578.9,435.4 579.5,435.8 580.0,435.1 580.5,435.6 581.1,435.8 581.6,435.9 582.2,436.5 582.7,438.0 583.3,436.8 583.8,438.7 584.4,440.7 584.9,440.5 585.5,442.3 586.0,443.6 586.5,444.8 587.1,447.1 587.6,449.7 588.2,449.9 588.7,451.3 589.3,452.5 589.8,455.1 590.4,456.4 590.9,457.6 591.5,459.4 592.0,460.8 592.5,461.8 593.1,463.7 593.6,463.4 594.2,465.7 594.7,466.0 595.3,466.9 595.8,467.6 596.4,467.4 596.9,467.4 597.5,467.2 598.0,467.6 598.5,467.8 599.1,466.7 599.6,467.4 600.2,465.9 600.7,464.8 601.3,463.8 601.8,463.5 602.4,462.5 602.9,459.5 603.5,459.3 604.0,458.4 604.5,456.6 605.1,454.4 605.6,452.2 606.2,451.2 606.7,448.9 607.3,447.8 607.8,446.1 608.4,444.4 608.9,443.6 609.5,441.9 610.0,441.0 610.5,440.0 610.5,445.9 610.0,446.9 609.5,447.8 608.9,449.5 608.4,450.2 607.8,452.0 607.3,453.7 606.7,454.8 606.2,457.0 605.6,458.0 605.1,460.2 604.5,462.5 604.0,464.2 603.5,465.1 602.9,465.4 602.4,468.4 601.8,469.4 601.3,469.6 600.7,470.6 600.2,471.7 599.6,473.2 599.1,472.6 598.5,473.7 598.0,473.4 597.5,473.1 596.9,473.2 596.4,473.2 595.8,473.5 595.3,472.8 594.7,471.9 594.2,471.6 593.6,469.3 593.1,469.5 592.5,467.7 592.0,466.6 591.5,465.3 590.9,463.4 590.4,462.2 589.8,460.9 589.3,458.4 588.7,457.2 588.2,455.7 587.6,455.6 587.1,453.0 586.5,450.6 586.0,449.4 585.5,448.2 584.9,446.3 584.4,446.6 583.8,444.6 583.3,442.7 582.7,443.9 582.2,442.3 581.6,441.8 581.1,441.7 580.5,441.4 580.0,440.9 579.5,441.7 578.9,441.3 578.4,442.2 577.8,442.6 577.3,443.3 576.7,443.1 576.2,445.0 575.6,447.6 575.1,447.5 574.5,449.6 574.0,450.2 573.5,451.5 572.9,453.6 572.4,455.2 571.8,456.6 571.3,458.9 570.7,459.8 570.2,462.0 569.6,462.8 569.1,464.8 568.5,465.3 568.0,467.3 567.5,469.4 566.9,470.5 566.4,469.9 565.8,471.4 565.3,472.5 564.7,472.5 564.2,473.2 563.6,473.9 563.1,473.8 562.5,474.0 562.0,473.8 561.5,474.0 560.9,472.1 560.4,471.9 559.8,472.3 559.3,471.0 558.7,468.3 558.2,466.5 557.6,466.0 557.1,465.1 556.5,464.4 556.0,463.3 555.5,461.4 554.9,458.7 554.4,457.7 553.8,457.1 553.3,454.1 552.7,453.0 552.2,450.4 551.6,448.9 551.1,447.7 550.5,446.1 550.0,445.8 549.5,445.6 548.9,444.4 548.4,442.3 547.8,442.4 547.3,442.1 546.7,441.7 546.2,441.6 545.6,441.4 545.1,440.9 544.5,441.7 544.0,441.7 543.5,442.8 542.9,443.8 542.4,444.0 541.8,445.6 541.3,445.9 540.7,448.9 540.2,448.2 539.6,450.7 539.1,452.2 538.5,454.7 538.0,455.2 537.5,456.3 536.9,458.2 536.4,460.3 535.8,461.2 535.3,462.0 534.7,464.8 534.2,466.0 533.6,467.4 533.1,469.2 532.5,470.6 532.0,470.7 531.5,471.6 530.9,472.6 530.4,473.1 529.8,473.8 529.3,473.8 528.7,473.3 528.2,474.0 527.6,473.3 527.1,473.3 526.5,472.0 526.0,471.4 525.5,471.1 524.9,469.5 524.4,468.9 523.8,468.3 523.3,466.2 522.7,464.8 522.2,463.5 521.6,462.8 521.1,460.5 520.5,458.6 520.0,457.6 519.5,455.5 518.9,454.0 518.4,452.7 517.8,450.6 517.3,449.7 516.7,449.0 516.2,446.8 515.6,445.7 515.1,445.5 514.5,443.8 514.0,443.4 513.5,443.1 512.9,441.9 512.4,442.0 511.8,442.4 511.3,440.6 510.7,441.5 510.2,442.8 509.6,442.3 509.1,442.5 508.5,443.8 508.0,444.6 507.5,446.2 506.9,446.7 506.4,448.2 505.8,449.5 505.3,450.1 504.7,451.8 504.2,453.2 503.6,454.6 503.1,456.8 502.5,458.3 502.0,460.9 501.4,462.0 500.9,463.5 500.4,464.7 499.8,465.0 499.3,468.2 498.7,468.8 498.2,469.2 497.6,470.8 497.1,471.9 496.5,473.3 496.0,473.7 495.4,475.0 494.9,474.2 494.4,473.9 493.8,473.3 493.3,473.8 492.7,472.8 492.2,472.7 491.6,472.4 491.1,472.1 490.5,470.4 490.0,468.9 489.4,467.3 488.9,467.2 488.4,465.4 487.8,463.8 487.3,462.3 486.7,461.2 486.2,458.7 485.6,456.6 485.1,456.1 484.5,454.6 484.0,452.3 483.4,450.6 482.9,448.9 482.4,449.1 481.8,447.3 481.3,445.8 480.7,444.5 480.2,444.2 479.6,442.9 479.1,442.8 478.5,441.6 478.0,441.5 477.4,441.2 476.9,442.2 476.4,441.2 475.8,441.7 475.3,443.5 474.7,441.8 474.2,443.1 473.6,444.4 473.1,446.0 472.5,445.7 472.0,447.3 471.4,449.9 470.9,451.1 470.4,452.6 469.8,453.3 469.3,455.8 468.7,456.9 468.2,457.9 467.6,461.0 467.1,462.8 466.5,463.7 466.0,464.6 465.4,466.3 464.9,467.4 464.4,469.7 463.8,469.4 463.3,471.5 462.7,471.0 462.2,472.8 461.6,473.2 461.1,474.3 460.5,473.4 460.0,474.1 459.4,474.0 458.9,474.2 458.4,473.4 457.8,472.4 457.3,472.7 456.7,470.6 456.2,470.5 455.6,469.0 455.1,467.7 454.5,467.2 454.0,465.1 453.4,463.7 452.9,463.4 452.4,460.1 451.8,459.2 451.3,458.0 450.7,455.8 450.2,454.8 449.6,452.8 449.1,451.1 448.5,450.4 448.0,446.8 447.4,446.5 446.9,445.8 446.4,445.0 445.8,444.0 445.3,443.1 444.7,442.7 444.2,441.5 443.6,442.1 443.1,441.2 442.5,441.8 442.0,442.0 441.4,441.5 440.9,442.4 440.4,442.2 439.8,443.7 439.3,443.4 438.7,444.9 438.2,446.5 437.6,447.8 437.1,449.4 436.5,450.1 436.0,451.5 435.4,453.5 434.9,456.0 434.4,457.4 433.8,457.6 433.3,460.3 432.7,462.5 432.2,463.3 431.6,464.1 431.1,466.8 430.5,467.2 430.0,469.3 429.4,470.8 428.9,471.4 428.4,471.3 427.8,472.9 427.3,473.0 426.7,473.4 426.2,472.9 425.6,474.0 425.1,473.7 424.5,473.7 424.0,473.6 423.4,473.1 422.9,472.1 422.4,471.4 421.8,470.5 421.3,469.5 420.7,468.8 420.2,466.9 419.6,465.8 419.1,463.2 418.5,463.0 418.0,461.8 417.4,459.4 416.9,457.4 416.4,456.0 415.8,453.8 415.3,453.5 414.7,451.7 414.2,449.7 413.6,448.3 413.1,447.0 412.5,445.6 412.0,445.1 411.4,443.5 410.9,443.8 410.4,442.4 409.8,441.0 409.3,441.8 408.7,441.1 408.2,441.4 407.6,440.7 407.1,442.0 406.5,443.0 406.0,443.1 405.4,444.1 404.9,443.0 404.4,446.0 403.8,446.6 403.3,447.9 402.7,449.2 402.2,450.3 401.6,453.0 401.1,454.3 400.5,454.9 400.0,457.1 399.4,459.1 398.9,459.6 398.4,461.8 397.8,463.3 397.3,464.8 396.7,465.8 396.2,467.8 395.6,468.2 395.1,469.7 394.5,471.2 394.0,471.5 393.4,471.7 392.9,473.6 392.4,474.6 391.8,473.0 391.3,473.9 390.7,473.4 390.2,473.3 389.6,473.2 389.1,472.2 388.5,471.5 388.0,471.0 387.4,469.6 386.9,469.1 386.3,468.2 385.8,465.9 385.3,465.1 384.7,464.1 384.2,462.9 383.6,460.0 383.1,459.7 382.5,457.2 382.0,455.6 381.4,454.5 380.9,452.9 380.3,451.2 379.8,448.9 379.3,448.8 378.7,447.7 378.2,446.6 377.6,445.2 377.1,444.8 376.5,442.5 376.0,441.7 375.4,442.1 374.9,442.5 374.3,441.0 373.8,440.7 373.3,442.4 372.7,440.8 372.2,442.8 371.6,442.6 371.1,444.2 370.5,444.1 370.0,446.1 369.4,446.3 368.9,447.5 368.3,448.4 367.8,450.8 367.3,452.3 366.7,453.8 366.2,455.0 365.6,457.1 365.1,458.6 364.5,459.7 364.0,461.9 363.4,464.0 362.9,464.7 362.3,467.1 361.8,467.3 361.3,469.2 360.7,469.8 360.2,470.8 359.6,471.7 359.1,472.3 358.5,472.7 358.0,474.1 357.4,473.9 356.9,473.7 356.3,473.6 355.8,473.9 355.3,472.4 354.7,472.7 354.2,472.0 353.6,471.1 353.1,470.6 352.5,469.1 352.0,467.8 351.4,467.1 350.9,465.9 350.3,464.0 349.8,462.6 349.3,460.7 348.7,459.8 348.2,457.9 347.6,456.5 347.1,455.3 346.5,452.8 346.0,452.0 345.4,450.4 344.9,448.5 344.3,447.3 343.8,446.0 343.3,445.1 342.7,443.5 342.2,442.9 341.6,442.9 341.1,442.5 340.5,441.1 340.0,441.3 339.4,440.8 338.9,441.0 338.3,440.4 337.8,442.1 337.3,443.1 336.7,443.1 336.2,444.3 335.6,444.8 335.1,446.6 334.5,447.2 334.0,449.3 333.4,450.9 332.9,452.0 332.3,454.0 331.8,455.4 331.3,457.0 330.7,458.4 330.2,459.6 329.6,461.6 329.1,462.3 328.5,464.6 328.0,466.1 327.4,467.0 326.9,468.5 326.3,469.6 325.8,470.6 325.3,472.0 324.7,472.4 324.2,473.3 323.6,473.7 323.1,474.0 322.5,473.3 322.0,473.7 321.4,474.2 320.9,473.6 320.3,473.4 319.8,473.1 319.3,471.2 318.7,470.4 318.2,468.4 317.6,467.7 317.1,466.5 316.5,465.2 316.0,463.8 315.4,462.2 314.9,460.5 314.3,459.7 313.8,458.1 313.3,456.6 312.7,453.8 312.2,451.9 311.6,450.7 311.1,450.2 310.5,448.0 310.0,448.0 309.4,445.7 308.9,445.3 308.3,443.3 307.8,443.8 307.3,442.3 306.7,441.4 306.2,441.1 305.6,441.1 305.1,441.9 304.5,441.2 304.0,441.0 303.4,442.0 302.9,442.6 302.3,444.1 301.8,444.8 301.3,445.2 300.7,446.3 300.2,447.6 299.6,448.1 299.1,450.8 298.5,451.6 298.0,453.6 297.4,454.9 296.9,456.0 296.3,458.9 295.8,459.9 295.3,461.3 294.7,463.0 294.2,464.9 293.6,465.7 293.1,467.9 292.5,467.9 292.0,471.4 291.4,470.5 290.9,470.8 290.3,472.6 289.8,472.9 289.3,474.0 288.7,472.9 288.2,473.5 287.6,473.1 287.1,472.4 286.5,473.0 286.0,472.3 285.4,473.0 284.9,471.5 284.3,469.7 283.8,468.6 283.2,468.3 282.7,466.0 282.2,465.1 281.6,464.2 281.1,463.1 280.5,461.2 280.0,460.3 279.4,458.3 278.9,455.8 278.3,453.9 277.8,453.6 277.2,451.6 276.7,449.6 276.2,448.7 275.6,446.9 275.1,446.6 274.5,444.4 274.0,443.4 273.4,443.4 272.9,442.6 272.3,442.5 271.8,441.8 271.2,441.3 270.7,441.3 270.2,441.3 269.6,442.3 269.1,441.8 268.5,442.9 268.0,442.8 267.4,444.4 266.9,445.5 266.3,446.1 265.8,448.1 265.2,449.5 264.7,451.1 264.2,452.0 263.6,454.1 263.1,455.9 262.5,457.3 262.0,458.4 261.4,459.8 260.9,460.9 260.3,464.0 259.8,464.0 259.2,465.3 258.7,466.7 258.2,467.8 257.6,469.4 257.1,470.9 256.5,471.2 256.0,472.6 255.4,473.6 254.9,474.1 254.3,473.7 253.8,473.3 253.2,474.5 252.7,473.9 252.2,472.4 251.6,472.5 251.1,472.6 250.5,470.2 250.0,471.3 249.4,469.3 248.9,467.3 248.3,467.2 247.8,464.6 247.2,464.3 246.7,462.8 246.2,461.9 245.6,459.2 245.1,457.7 244.5,456.3 244.0,453.9 243.4,452.2 242.9,451.2 242.3,451.5 241.8,448.9 241.2,446.6 240.7,445.6 240.2,444.6 239.6,443.4 239.1,444.0 238.5,442.4 238.0,442.1 237.4,441.8 236.9,442.2 236.3,440.9 235.8,442.5 235.2,442.0 234.7,442.2 234.2,442.9 233.6,443.7 233.1,444.4 232.5,445.0 232.0,446.1 231.4,448.6 230.9,449.5 230.3,450.2 229.8,451.9 229.2,453.1 228.7,455.7 228.2,456.6 227.6,458.4 227.1,461.0 226.5,462.0 226.0,463.2 225.4,464.7 224.9,465.5 224.3,466.8 223.8,468.5 223.2,469.2 222.7,471.7 222.2,471.5 221.6,472.5 221.1,472.5 220.5,472.9 220.0,473.7 219.4,473.7 218.9,474.8 218.3,473.9 217.8,472.7 217.2,472.9 216.7,473.5 216.2,471.8 215.6,470.5 215.1,469.6 214.5,467.3 214.0,466.9 213.4,466.2 212.9,463.5 212.3,462.5 211.8,461.0 211.2,459.7 210.7,457.8 210.2,456.6 209.6,453.5 209.1,453.1 208.5,451.5 208.0,450.0 207.4,447.4 206.9,447.7 206.3,446.1 205.8,445.7 205.2,444.5 204.7,443.4 204.2,442.5 203.6,442.4 203.1,441.2 202.5,441.0 202.0,441.1 201.4,441.7 200.9,441.8 200.3,442.0 199.8,443.2 199.2,444.6 198.7,444.6 198.2,445.4 197.6,446.5 197.1,448.1 196.5,448.7 196.0,450.8 195.4,451.6 194.9,453.3 194.3,454.3 193.8,455.9 193.2,458.3 192.7,459.9 192.2,460.5 191.6,462.3 191.1,464.2 190.5,466.7 190.0,467.4 189.4,468.3 188.9,469.3 188.3,470.5 187.8,471.6 187.2,472.3 186.7,473.2 186.2,474.1 185.6,473.4 185.1,473.5 184.5,474.4 184.0,473.6 183.4,472.8 182.9,472.5 182.3,472.1 181.8,471.7 181.2,469.5 180.7,468.3 180.2,467.8 179.6,468.1 179.1,465.6 178.5,463.6 178.0,463.1 177.4,461.4 176.9,460.0 176.3,457.4 175.8,456.8 175.2,454.7 174.7,452.6 174.1,451.2 173.6,450.2 173.1,448.1 172.5,447.6 172.0,445.8 171.4,444.7 170.9,443.8 170.3,443.2 169.8,443.1 169.2,442.0 168.7,442.4 168.1,441.2 167.6,441.5 167.1,442.7 166.5,442.3 166.0,442.4 165.4,443.1 164.9,443.7 164.3,443.0 163.8,445.9 163.2,446.5 162.7,448.3 162.1,449.5 161.6,450.6 161.1,452.2 160.5,453.5 160.0,455.8 159.4,456.3 158.9,459.2 158.3,459.7 157.8,461.6 157.2,463.4 156.7,464.7 156.1,465.9 155.6,467.1 155.1,468.2 154.5,469.9 154.0,472.1 153.4,472.3 152.9,472.6 152.3,472.1 151.8,472.7 151.2,473.3 150.7,473.5 150.1,473.6 149.6,473.4 149.1,472.3 148.5,473.1 148.0,471.3 147.4,471.8 146.9,469.7 146.3,469.8 145.8,468.3 145.2,467.9 144.7,465.7 144.1,464.1 143.6,463.2 143.1,460.6 142.5,459.3 142.0,458.2 141.4,456.1 140.9,454.8 140.3,453.8 139.8,451.0 139.2,450.6 138.7,447.8 138.1,447.2 137.6,446.1 137.1,445.0 136.5,443.8 136.0,443.5 135.4,443.4 134.9,442.1 134.3,442.6 133.8,441.1 133.2,441.6 132.7,441.3 132.1,441.8 131.6,442.2 131.1,442.9 130.5,443.2 130.0,444.0 129.4,445.6 128.9,446.1 128.3,447.2 127.8,449.7 127.2,449.9 126.7,451.2 126.1,452.7 125.6,453.7 125.1,456.2 124.5,457.6 124.0,459.7 123.4,461.6 122.9,464.6 122.3,464.5 121.8,465.4 121.2,467.1 120.7,468.7 120.1,470.2 119.6,470.5 119.1,471.4 118.5,472.2 118.0,472.2 117.4,474.1 116.9,473.8 116.3,473.4 115.8,473.6 115.2,473.6 114.7,473.6 114.1,473.3 113.6,472.2 113.1,471.0 112.5,470.6 112.0,470.0 111.4,468.1 110.9,467.3 110.3,465.8 109.8,464.6 109.2,462.4 108.7,460.5 108.1,459.5 107.6,458.0 107.1,456.1 106.5,454.7 106.0,453.5 105.4,451.8 104.9,449.5 104.3,448.3 103.8,446.4 103.2,446.3 102.7,445.1 102.1,444.1 101.6,443.2 101.1,443.2 100.5,442.1 100.0,441.5 99.4,441.6 98.9,441.2 98.3,440.9 97.8,440.7 97.2,441.8 96.7,442.3 96.1,443.8 95.6,444.6 95.1,444.5 94.5,446.2 94.0,447.9 93.4,449.1 92.9,450.2 92.3,452.4 91.8,451.9 91.2,454.8 90.7,455.9 90.1,457.8 89.6,459.5 89.1,461.2 88.5,462.6 88.0,464.6 87.4,466.7 86.9,466.3 86.3,469.4 85.8,469.9 85.2,470.7 84.7,471.5 84.1,472.4 83.6,473.0 83.1,472.9 82.5,473.9 82.0,473.6 81.4,475.0 80.9,473.7 80.3,473.1 79.8,473.2 79.2,472.1 78.7,471.3 78.1,470.2 77.6,469.5 77.1,468.3 76.5,466.9 76.0,465.6 75.4,464.0 74.9,463.4 74.3,460.8 73.8,459.2 73.2,458.0 72.7,456.8 72.1,455.2 71.6,453.3 71.1,450.7 70.5,449.2 70.0,447.9 69.4,448.0 68.9,442.2 68.3,443.8 67.8,445.4 67.2,447.0 66.7,448.6 66.1,450.3 65.6,451.9 65.0,453.5Z" fill="#a8a8f8" fill-opacity="0.55"/>
<path d="M65.0,432.0 65.6,433.3 66.1,432.9 66.7,435.5 67.2,439.2 67.8,440.6 68.3,438.8 68.9,441.6 69.4,440.8 70.0,448.9 70.5,441.5 71.1,447.4 71.6,447.1 72.1,450.9 72.7,453.2 73.2,452.8 73.8,453.5 74.3,457.9 74.9,459.5 75.4,458.9 76.0,464.5 76.5,467.6 77.1,464.0 77.6,468.0 78.1,472.4 78.7,470.5 79.2,382.1 79.8,473.1 80.3,474.4 80.9,470.7 81.4,468.7 82.0,471.7 82.5,472.8 83.1,469.6 83.6,468.2 84.1,470.2 84.7,467.2 85.2,464.9 85.8,467.1 86.3,467.4 86.9,463.1 87.4,461.9 88.0,458.2 88.5,462.8 89.1,459.5 89.6,458.2 90.1,458.8 90.7,452.3 91.2,449.5 91.8,451.1 92.3,443.9 92.9,443.8 93.4,442.8 94.0,442.0 94.5,439.2 95.1,444.0 95.6,437.9 96.1,437.0 96.7,442.4 97.2,436.3 97.8,437.4 98.3,434.4 98.9,437.5 99.4,436.5 100.0,435.8 100.5,348.2 101.1,436.1 101.6,438.6 102.1,438.0 102.7,441.6 103.2,438.6 103.8,441.1 104.3,444.6 104.9,444.0 105.4,443.9 106.0,444.1 106.5,454.6 107.1,449.9 107.6,452.7 108.1,455.9 108.7,460.0 109.2,455.8 109.8,463.9 110.3,460.7 110.9,460.3 111.4,469.2 112.0,467.1 112.5,470.8 113.1,467.8 113.6,465.3 114.1,464.7 114.7,475.1 115.2,472.3 115.8,469.2 116.3,466.9 116.9,469.8 117.4,472.5 118.0,469.3 118.5,381.2 119.1,469.2 119.6,469.6 120.1,465.6 120.7,464.6 121.2,464.3 121.8,463.2 122.3,464.4 122.9,460.7 123.4,454.6 124.0,456.6 124.5,458.1 125.1,360.8 125.6,363.4 126.1,443.7 126.7,447.4 127.2,447.2 127.8,448.2 128.3,439.6 128.9,435.1 129.4,442.7 130.0,441.2 130.5,437.0 131.1,440.0 131.6,437.9 132.1,437.6 132.7,436.0 133.2,433.5 133.8,436.3 134.3,434.2 134.9,438.1 135.4,436.8 136.0,443.9 136.5,443.0 137.1,438.2 137.6,442.9 138.1,441.2 138.7,442.7 139.2,442.1 139.8,445.0 140.3,446.1 140.9,450.7 141.4,454.0 142.0,455.8 142.5,363.0 143.1,460.3 143.6,460.4 144.1,460.9 144.7,461.5 145.2,464.5 145.8,470.0 146.3,466.4 146.9,466.8 147.4,465.6 148.0,467.7 148.5,471.6 149.1,472.3 149.6,465.6 150.1,469.1 150.7,466.3 151.2,465.4 151.8,472.7 152.3,469.1 152.9,468.3 153.4,467.2 154.0,466.3 154.5,466.1 155.1,464.9 155.6,468.0 156.1,463.0 156.7,463.0 157.2,459.1 157.8,459.0 158.3,454.5 158.9,452.3 159.4,451.9 160.0,450.1 160.5,449.0 161.1,448.8 161.6,446.4 162.1,355.2 162.7,357.8 163.2,441.7 163.8,439.1 164.3,443.0 164.9,436.3 165.4,439.8 166.0,439.1 166.5,437.3 167.1,437.9 167.6,435.6 168.1,437.9 168.7,439.4 169.2,439.2 169.8,434.2 170.3,349.1 170.9,442.2 171.4,440.2 172.0,445.4 172.5,438.0 173.1,448.0 173.6,444.3 174.1,445.7 174.7,452.5 175.2,449.6 175.8,449.5 176.3,452.6 176.9,454.9 177.4,454.8 178.0,458.5 178.5,459.7 179.1,462.5 179.6,462.0 180.2,467.4 180.7,464.2 181.2,468.7 181.8,471.2 182.3,468.3 182.9,465.5 183.4,467.9 184.0,472.2 184.5,469.2 185.1,472.2 185.6,471.2 186.2,470.4 186.7,476.1 187.2,469.0 187.8,471.3 188.3,469.5 188.9,470.5 189.4,469.4 190.0,466.5 190.5,460.5 191.1,456.8 191.6,459.6 192.2,455.0 192.7,456.8 193.2,459.4 193.8,452.3 194.3,449.8 194.9,450.4 195.4,446.8 196.0,444.6 196.5,446.8 197.1,447.0 197.6,442.4 198.2,441.1 198.7,440.4 199.2,436.0 199.8,433.3 200.3,438.3 200.9,520.7 201.4,519.6 202.0,518.3 202.5,518.5 203.1,520.0 203.6,519.7 204.2,521.0 204.7,524.8 205.2,528.0 205.8,520.7 206.3,524.3 206.9,527.1 207.4,531.2 208.0,532.2 208.5,529.9 209.1,538.0 209.6,536.1 210.2,536.2 210.7,539.2 211.2,543.5 211.8,543.4 212.3,457.4 212.9,461.7 213.4,467.1 214.0,465.4 214.5,464.3 215.1,464.6 215.6,466.9 216.2,468.2 216.7,468.0 217.2,470.4 217.8,467.4 218.3,470.4 218.9,470.3 219.4,469.6 220.0,473.7 220.5,472.4 221.1,466.1 221.6,468.6 222.2,469.4 222.7,466.8 223.2,467.9 223.8,464.7 224.3,465.8 224.9,461.9 225.4,465.2 226.0,456.1 226.5,459.2 227.1,460.3 227.6,455.0 228.2,453.7 228.7,450.6 229.2,452.3 229.8,446.6 230.3,358.2 230.9,447.9 231.4,442.3 232.0,442.6 232.5,440.1 233.1,444.3 233.6,441.6 234.2,436.6 234.7,437.3 235.2,432.5 235.8,438.3 236.3,435.9 236.9,428.8 237.4,438.6 238.0,439.4 238.5,437.7 239.1,438.4 239.6,437.0 240.2,356.9 240.7,443.3 241.2,442.1 241.8,437.1 242.3,442.2 242.9,454.3 243.4,449.0 244.0,452.6 244.5,450.4 245.1,454.2 245.6,450.5 246.2,454.8 246.7,456.6 247.2,460.0 247.8,462.2 248.3,462.7 248.9,461.5 249.4,376.0 250.0,468.2 250.5,465.0 251.1,468.7 251.6,470.1 252.2,472.5 252.7,472.3 253.2,472.7 253.8,478.3 254.3,468.3 254.9,469.1 255.4,470.7 256.0,466.8 256.5,467.6 257.1,466.8 257.6,473.1 258.2,466.1 258.7,462.7 259.2,458.5 259.8,456.4 260.3,455.9 260.9,460.9 261.4,461.9 262.0,362.6 262.5,365.2 263.1,448.5 263.6,449.7 264.2,447.1 264.7,450.0 265.2,443.4 265.8,444.3 266.3,440.9 266.9,349.5 267.4,439.9 268.0,437.8 268.5,437.9 269.1,435.2 269.6,435.5 270.2,437.9 270.7,437.9 271.2,431.9 271.8,436.9 272.3,434.4 272.9,436.5 273.4,439.7 274.0,441.1 274.5,439.8 275.1,440.6 275.6,441.0 276.2,447.3 276.7,447.0 277.2,447.2 277.8,444.5 278.3,456.5 278.9,450.9 279.4,455.2 280.0,454.4 280.5,458.5 281.1,457.9 281.6,456.4 282.2,461.1 282.7,462.4 283.2,463.9 283.8,468.1 284.3,465.9 284.9,468.8 285.4,471.3 286.0,380.8 286.5,471.0 287.1,468.8 287.6,471.1 288.2,472.4 288.7,467.1 289.3,468.0 289.8,466.8 290.3,467.9 290.9,469.0 291.4,468.9 292.0,467.4 292.5,463.0 293.1,463.9 293.6,466.6 294.2,461.3 294.7,365.6 295.3,457.5 295.8,459.4 296.3,457.8 296.9,452.5 297.4,451.3 298.0,453.7 298.5,445.8 299.1,440.5 299.6,448.5 300.2,438.5 300.7,443.7 301.3,442.0 301.8,440.1 302.3,442.4 302.9,434.5 303.4,436.0 304.0,438.7 304.5,437.2 305.1,440.3 305.6,437.3 306.2,434.2 306.7,441.5 307.3,438.7 307.8,437.9 308.3,436.4 308.9,436.6 309.4,442.5 310.0,444.5 310.5,442.8 311.1,446.4 311.6,447.8 312.2,445.8 312.7,445.9 313.3,451.3 313.8,454.2 314.3,454.0 314.9,462.1 315.4,458.9 316.0,463.2 316.5,455.8 317.1,461.6 317.6,464.5 318.2,466.6 318.7,473.8 319.3,466.4 319.8,464.9 320.3,471.8 320.9,468.6 321.4,468.9 322.0,475.0 322.5,468.6 323.1,467.4 323.6,470.0 324.2,470.3 324.7,467.5 325.3,472.7 325.8,467.6 326.3,464.0 326.9,468.7 327.4,461.6 328.0,463.8 328.5,466.7 329.1,459.9 329.6,460.5 330.2,455.5 330.7,457.6 331.3,450.1 331.8,453.0 332.3,448.5 332.9,449.3 333.4,447.0 334.0,441.6 334.5,442.7 335.1,442.9 335.6,443.9 336.2,436.6 336.7,436.8 337.3,438.7 337.8,436.6 338.3,439.5 338.9,349.5 339.4,438.5 340.0,435.5 340.5,435.8 341.1,438.9 341.6,435.6 342.2,436.2 342.7,352.1 343.3,354.7 343.8,442.0 344.3,442.8 344.9,442.7 345.4,445.5 346.0,444.9 346.5,451.8 347.1,446.5 347.6,454.0 348.2,454.1 348.7,459.0 349.3,455.6 349.8,455.5 350.3,457.6 350.9,459.8 351.4,467.5 352.0,466.9 352.5,467.3 353.1,469.7 353.6,465.3 354.2,468.7 354.7,469.9 355.3,469.1 355.8,473.3 356.3,473.4 356.9,473.4 357.4,469.6 358.0,469.7 358.5,468.7 359.1,466.7 359.6,472.3 360.2,469.3 360.7,380.8 361.3,469.0 361.8,465.6 362.3,460.1 362.9,458.4 363.4,456.9 364.0,457.9 364.5,456.9 365.1,451.8 365.6,453.8 366.2,450.3 366.7,446.0 367.3,448.8 367.8,447.8 368.3,444.7 368.9,441.7 369.4,440.7 370.0,440.3 370.5,438.2 371.1,442.9 371.6,440.1 372.2,436.8 372.7,439.2 373.3,440.0 373.8,439.5 374.3,438.8 374.9,437.1 375.4,439.6 376.0,436.9 376.5,433.8 377.1,439.5 377.6,436.8 378.2,440.5 378.7,445.4 379.3,444.5 379.8,447.9 380.3,444.9 380.9,451.5 381.4,446.8 382.0,450.4 382.5,458.9 383.1,453.3 383.6,453.0 384.2,460.8 384.7,457.8 385.3,466.6 385.8,462.8 386.3,469.1 386.9,464.8 387.4,471.9 388.0,475.1 388.5,468.1 389.1,463.9 389.6,471.9 390.2,468.6 390.7,470.7 391.3,471.9 391.8,469.3 392.4,466.4 392.9,381.2 393.4,468.1 394.0,467.9 394.5,471.5 395.1,462.6 395.6,460.5 396.2,466.7 396.7,458.3 397.3,461.2 397.8,460.1 398.4,454.1 398.9,455.8 399.4,453.8 400.0,449.0 400.5,447.8 401.1,447.2 401.6,451.5 402.2,450.3 402.7,441.8 403.3,445.7 403.8,441.6 404.4,443.5 404.9,440.1 405.4,442.0 406.0,433.7 406.5,439.9 407.1,437.1 407.6,437.0 408.2,433.2 408.7,440.1 409.3,436.7 409.8,437.5 410.4,436.1 410.9,437.0 411.4,440.3 412.0,439.4 412.5,442.2 413.1,441.3 413.6,444.1 414.2,447.0 414.7,446.9 415.3,447.5 415.8,444.3 416.4,453.2 416.9,452.8 417.4,451.5 418.0,462.5 418.5,463.3 419.1,463.5 419.6,462.2 420.2,457.0 420.7,463.8 421.3,462.9 421.8,467.8 422.4,474.6 422.9,475.1 423.4,467.2 424.0,469.9 424.5,474.2 425.1,468.1 425.6,475.1 426.2,468.0 426.7,466.9 427.3,472.2 427.8,472.5 428.4,466.6 428.9,470.7 429.4,464.5 430.0,468.7 430.5,462.2 431.1,462.6 431.6,462.5 432.2,462.1 432.7,457.5 433.3,461.3 433.8,455.4 434.4,454.0 434.9,449.5 435.4,452.8 436.0,443.4 436.5,447.1 437.1,447.7 437.6,439.7 438.2,437.6 438.7,441.2 439.3,442.0 439.8,438.7 440.4,439.7 440.9,438.1 441.4,432.7 442.0,435.5 442.5,436.0 443.1,435.5 443.6,436.7 444.2,434.8 444.7,435.2 445.3,439.2 445.8,438.8 446.4,433.8 446.9,440.1 447.4,442.9 448.0,438.5 448.5,445.3 449.1,449.7 449.6,446.7 450.2,452.5 450.7,453.1 451.3,452.7 451.8,455.6 452.4,459.0 452.9,460.1 453.4,461.9 454.0,458.9 454.5,465.2 455.1,466.2 455.6,377.3 456.2,468.6 456.7,464.3 457.3,465.7 457.8,470.2 458.4,474.1 458.9,469.6 459.4,469.2 460.0,468.5 460.5,470.8 461.1,467.5 461.6,466.6 462.2,472.3 462.7,465.1 463.3,467.4 463.8,468.3 464.4,466.4 464.9,459.4 465.4,460.3 466.0,466.0 466.5,459.6 467.1,458.5 467.6,456.9 468.2,456.0 468.7,456.8 469.3,449.0 469.8,452.0 470.4,360.8 470.9,447.9 471.4,446.7 472.0,441.4 472.5,441.0 473.1,442.5 473.6,442.2 474.2,440.0 474.7,435.4 475.3,437.0 475.8,436.2 476.4,437.3 476.9,437.0 477.4,435.8 478.0,441.4 478.5,432.7 479.1,439.5 479.6,439.7 480.2,435.5 480.7,439.4 481.3,441.1 481.8,443.9 482.4,447.9 482.9,444.8 483.4,443.7 484.0,365.6 484.5,446.6 485.1,454.7 485.6,455.4 486.2,453.9 486.7,457.0 487.3,456.9 487.8,462.2 488.4,464.5 488.9,468.2 489.4,467.9 490.0,468.8 490.5,470.9 491.1,467.4 491.6,470.8 492.2,475.0 492.7,463.9 493.3,472.9 493.8,474.3 494.4,467.8 494.9,467.9 495.4,473.7 496.0,474.0 496.5,472.2 497.1,465.9 497.6,468.7 498.2,468.9 498.7,465.7 499.3,461.2 499.8,466.5 500.4,462.4 500.9,463.4 501.4,452.5 502.0,451.7 502.5,452.3 503.1,453.4 503.6,449.6 504.2,455.1 504.7,447.2 505.3,449.8 505.8,448.3 506.4,445.2 506.9,442.9 507.5,439.3 508.0,437.9 508.5,438.1 509.1,440.4 509.6,435.5 510.2,437.1 510.7,433.4 511.3,438.7 511.8,443.6 512.4,437.8 512.9,431.3 513.5,436.2 514.0,438.7 514.5,436.7 515.1,438.7 515.6,439.9 516.2,443.7 516.7,443.6 517.3,444.7 517.8,364.3 518.4,451.3 518.9,449.7 519.5,449.3 520.0,451.8 520.5,453.9 521.1,455.6 521.6,451.9 522.2,459.6 522.7,459.1 523.3,458.2 523.8,464.6 524.4,465.3 524.9,464.4 525.5,463.8 526.0,468.2 526.5,468.8 527.1,470.1 527.6,473.9 528.2,468.1 528.7,388.6 529.3,475.4 529.8,471.0 530.4,474.7 530.9,472.2 531.5,468.8 532.0,380.8 532.5,383.4 533.1,469.5 533.6,463.7 534.2,461.5 534.7,457.6 535.3,457.4 535.8,457.6 536.4,456.3 536.9,454.9 537.5,450.1 538.0,453.0 538.5,448.2 539.1,448.2 539.6,445.7 540.2,445.5 540.7,437.8 541.3,443.7 541.8,440.1 542.4,439.0 542.9,437.2 543.5,436.8 544.0,436.2 544.5,434.2 545.1,440.4 545.6,436.3 546.2,439.6 546.7,435.9 547.3,440.0 547.8,439.9 548.4,438.3 548.9,435.3 549.5,438.4 550.0,440.3 550.5,438.7 551.1,446.2 551.6,450.6 552.2,447.8 552.7,449.1 553.3,446.8 553.8,446.1 554.4,456.9 554.9,448.7 555.5,452.8 556.0,456.4 556.5,459.2 557.1,455.4 557.6,463.0 558.2,465.9 558.7,465.6 559.3,470.7 559.8,466.9 560.4,469.3 560.9,468.9 561.5,469.4 562.0,473.5 562.5,467.5 563.1,473.7 563.6,468.6 564.2,474.8 564.7,469.2 565.3,471.7 565.8,468.7 566.4,469.6 566.9,472.5 567.5,376.0 568.0,464.2 568.5,461.3 569.1,465.2 569.6,465.4 570.2,460.5 570.7,457.0 571.3,360.8 571.8,455.2 572.4,449.1 572.9,355.2 573.5,446.0 574.0,448.8 574.5,444.6 575.1,443.9 575.6,445.8 576.2,438.5 576.7,439.5 577.3,440.0 577.8,434.3 578.4,435.3 578.9,434.6 579.5,433.3 580.0,434.4 580.5,439.6 581.1,437.5 581.6,434.3 582.2,439.4 582.7,438.0 583.3,437.9 583.8,436.2 584.4,437.7 584.9,440.0 585.5,444.2 586.0,442.7 586.5,445.3 587.1,448.7 587.6,446.4 588.2,450.4 588.7,455.4 589.3,451.8 589.8,457.5 590.4,373.4 590.9,464.1 591.5,461.8 592.0,465.7 592.5,467.2 593.1,470.9 593.6,461.5 594.2,468.5 594.7,468.4 595.3,466.8 595.8,470.6 596.4,469.4 596.9,474.5 597.5,470.5 598.0,472.0 598.5,469.4 599.1,469.7 599.6,473.2 600.2,473.7 600.7,470.6 601.3,465.0 601.8,464.6 602.4,463.3 602.9,468.2 603.5,468.5 604.0,461.5 604.5,459.1 605.1,458.1 605.6,453.9 606.2,453.6 606.7,454.5 607.3,452.0 607.8,447.6 608.4,446.2 608.9,445.1 609.5,437.5 610.0,442.8 610.5,440.6" fill="none" stroke="#2f78b5" stroke-width="1.8"/>
<path d="M65.0,450.2 65.6,448.6 66.1,447.0 66.7,445.4 67.2,443.8 67.8,442.2 68.3,440.6 68.9,438.9 69.4,444.7 70.0,444.7 70.5,446.0 71.1,447.5 71.6,450.0 72.1,452.0 72.7,453.6 73.2,454.7 73.8,455.9 74.3,457.5 74.9,460.1 75.4,460.8 76.0,462.3 76.5,463.7 77.1,465.0 77.6,466.3 78.1,466.9 78.7,468.1 79.2,468.8 79.8,469.9 80.3,469.9 80.9,470.5 81.4,471.7 82.0,470.4 82.5,470.6 83.1,469.7 83.6,469.8 84.1,469.1 84.7,468.2 85.2,467.4 85.8,466.6 86.3,466.2 86.9,463.0 87.4,463.5 88.0,461.4 88.5,459.4 89.1,457.9 89.6,456.3 90.1,454.5 90.7,452.7 91.2,451.5 91.8,448.6 92.3,449.1 92.9,447.0 93.4,445.9 94.0,444.6 94.5,443.0 95.1,441.2 95.6,441.4 96.1,440.5 96.7,439.0 97.2,438.6 97.8,437.4 98.3,437.6 98.9,438.0 99.4,438.3 100.0,438.3 100.5,438.8 101.1,440.0 101.6,440.0 102.1,440.9 102.7,441.9 103.2,443.1 103.8,443.2 104.3,445.0 104.9,446.3 105.4,448.5 106.0,450.3 106.5,451.5 107.1,452.8 107.6,454.7 108.1,456.3 108.7,457.3 109.2,459.2 109.8,461.4 110.3,462.5 110.9,464.0 111.4,464.9 112.0,466.8 112.5,467.3 113.1,467.8 113.6,468.9 114.1,470.1 114.7,470.4 115.2,470.3 115.8,470.3 116.3,470.2 116.9,470.5 117.4,470.9 118.0,469.0 118.5,468.9 119.1,468.1 119.6,467.3 120.1,467.0 120.7,465.4 121.2,463.9 121.8,462.1 122.3,461.2 122.9,461.4 123.4,458.3 124.0,456.4 124.5,454.3 125.1,453.0 125.6,450.4 126.1,449.4 126.7,447.9 127.2,446.6 127.8,446.4 128.3,443.9 128.9,442.8 129.4,442.3 130.0,440.7 130.5,439.9 131.1,439.7 131.6,438.9 132.1,438.6 132.7,438.1 133.2,438.3 133.8,437.9 134.3,439.4 134.9,438.9 135.4,440.1 136.0,440.2 136.5,440.5 137.1,441.7 137.6,442.9 138.1,444.0 138.7,444.5 139.2,447.3 139.8,447.7 140.3,450.5 140.9,451.5 141.4,452.8 142.0,455.0 142.5,456.0 143.1,457.4 143.6,459.9 144.1,460.9 144.7,462.5 145.2,464.7 145.8,465.0 146.3,466.5 146.9,466.5 147.4,468.6 148.0,468.0 148.5,469.8 149.1,469.1 149.6,470.1 150.1,470.4 150.7,470.2 151.2,470.0 151.8,469.4 152.3,468.8 152.9,469.3 153.4,469.0 154.0,468.9 154.5,466.6 155.1,464.9 155.6,463.8 156.1,462.6 156.7,461.4 157.2,460.1 157.8,458.4 158.3,456.4 158.9,455.9 159.4,453.0 160.0,452.5 160.5,450.3 161.1,449.0 161.6,447.3 162.1,446.3 162.7,445.0 163.2,443.3 163.8,442.6 164.3,439.8 164.9,440.4 165.4,439.8 166.0,439.2 166.5,439.0 167.1,439.5 167.6,438.2 168.1,438.0 168.7,439.1 169.2,438.7 169.8,439.9 170.3,440.0 170.9,440.6 171.4,441.5 172.0,442.6 172.5,444.4 173.1,444.9 173.6,446.9 174.1,448.0 174.7,449.3 175.2,451.4 175.8,453.5 176.3,454.2 176.9,456.7 177.4,458.2 178.0,459.9 178.5,460.4 179.1,462.3 179.6,464.8 180.2,464.5 180.7,465.0 181.2,466.2 181.8,468.4 182.3,468.9 182.9,469.3 183.4,469.6 184.0,470.4 184.5,471.2 185.1,470.2 185.6,470.2 186.2,470.9 186.7,469.9 187.2,469.0 187.8,468.4 188.3,467.2 188.9,466.1 189.4,465.0 190.0,464.1 190.5,463.4 191.1,461.0 191.6,459.1 192.2,457.2 192.7,456.7 193.2,455.1 193.8,452.7 194.3,451.1 194.9,450.0 195.4,448.3 196.0,447.6 196.5,445.5 197.1,444.9 197.6,443.3 198.2,442.1 198.7,441.3 199.2,441.3 199.8,439.9 200.3,438.7 200.9,438.5 201.4,438.4 202.0,437.9 202.5,437.8 203.1,437.9 203.6,439.1 204.2,439.2 204.7,440.1 205.2,441.2 205.8,442.5 206.3,442.8 206.9,444.4 207.4,444.2 208.0,446.7 208.5,448.3 209.1,449.9 209.6,450.3 210.2,453.3 210.7,454.6 211.2,456.5 211.8,457.8 212.3,459.3 212.9,460.2 213.4,463.0 214.0,463.6 214.5,464.1 215.1,466.4 215.6,467.2 216.2,468.6 216.7,470.3 217.2,469.6 217.8,469.4 218.3,470.6 218.9,471.6 219.4,470.5 220.0,470.5 220.5,469.7 221.1,469.3 221.6,469.3 222.2,468.2 222.7,468.5 223.2,465.9 223.8,465.3 224.3,463.5 224.9,462.2 225.4,461.5 226.0,459.9 226.5,458.7 227.1,457.8 227.6,455.1 228.2,453.4 228.7,452.4 229.2,449.9 229.8,448.7 230.3,447.0 230.9,446.2 231.4,445.4 232.0,442.8 232.5,441.8 233.1,441.2 233.6,440.4 234.2,439.6 234.7,439.0 235.2,438.7 235.8,439.2 236.3,437.7 236.9,438.9 237.4,438.5 238.0,438.9 238.5,439.1 239.1,440.8 239.6,440.1 240.2,441.3 240.7,442.4 241.2,443.3 241.8,445.7 242.3,448.3 242.9,447.9 243.4,449.0 244.0,450.6 244.5,453.1 245.1,454.5 245.6,455.9 246.2,458.6 246.7,459.6 247.2,461.1 247.8,461.4 248.3,463.9 248.9,464.1 249.4,466.0 250.0,468.0 250.5,466.9 251.1,469.4 251.6,469.2 252.2,469.1 252.7,470.7 253.2,471.2 253.8,470.1 254.3,470.5 254.9,470.8 255.4,470.3 256.0,469.4 256.5,467.9 257.1,467.7 257.6,466.2 258.2,464.5 258.7,463.5 259.2,462.0 259.8,460.7 260.3,460.7 260.9,457.7 261.4,456.5 262.0,455.2 262.5,454.0 263.1,452.7 263.6,450.9 264.2,448.7 264.7,447.8 265.2,446.2 265.8,444.8 266.3,442.9 266.9,442.3 267.4,441.2 268.0,439.5 268.5,439.7 269.1,438.6 269.6,439.0 270.2,438.0 270.7,438.0 271.2,438.0 271.8,438.6 272.3,439.2 272.9,439.4 273.4,440.1 274.0,440.2 274.5,441.2 275.1,443.4 275.6,443.6 276.2,445.5 276.7,446.4 277.2,448.3 277.8,450.4 278.3,450.6 278.9,452.5 279.4,455.0 280.0,457.0 280.5,457.9 281.1,459.8 281.6,460.9 282.2,461.8 282.7,462.8 283.2,465.0 283.8,465.3 284.3,466.5 284.9,468.3 285.4,469.7 286.0,469.1 286.5,469.7 287.1,469.2 287.6,469.8 288.2,470.2 288.7,469.6 289.3,470.8 289.8,469.7 290.3,469.3 290.9,467.5 291.4,467.2 292.0,468.1 292.5,464.7 293.1,464.6 293.6,462.4 294.2,461.6 294.7,459.8 295.3,458.0 295.8,456.6 296.3,455.6 296.9,452.8 297.4,451.7 298.0,450.3 298.5,448.4 299.1,447.5 299.6,444.9 300.2,444.4 300.7,443.1 301.3,441.9 301.8,441.6 302.3,440.8 302.9,439.4 303.4,438.7 304.0,437.8 304.5,438.0 305.1,438.6 305.6,437.8 306.2,437.9 306.7,438.2 307.3,439.0 307.8,440.5 308.3,440.1 308.9,442.0 309.4,442.4 310.0,444.7 310.5,444.8 311.1,447.0 311.6,447.5 312.2,448.6 312.7,450.5 313.3,453.3 313.8,454.8 314.3,456.4 314.9,457.2 315.4,459.0 316.0,460.6 316.5,462.0 317.1,463.2 317.6,464.5 318.2,465.1 318.7,467.1 319.3,467.9 319.8,469.8 320.3,470.2 320.9,470.4 321.4,471.0 322.0,470.5 322.5,470.1 323.1,470.7 323.6,470.5 324.2,470.0 324.7,469.1 325.3,468.7 325.8,467.3 326.3,466.4 326.9,465.2 327.4,463.8 328.0,462.8 328.5,461.3 329.1,459.0 329.6,458.4 330.2,456.4 330.7,455.1 331.3,453.8 331.8,452.2 332.3,450.8 332.9,448.8 333.4,447.6 334.0,446.1 334.5,443.9 335.1,443.4 335.6,441.6 336.2,441.0 336.7,439.8 337.3,439.8 337.8,438.9 338.3,437.1 338.9,437.8 339.4,437.6 340.0,438.0 340.5,437.9 341.1,439.3 341.6,439.6 342.2,439.6 342.7,440.2 343.3,441.8 343.8,442.8 344.3,444.1 344.9,445.3 345.4,447.2 346.0,448.8 346.5,449.6 347.1,452.0 347.6,453.2 348.2,454.7 348.7,456.5 349.3,457.4 349.8,459.4 350.3,460.7 350.9,462.6 351.4,463.9 352.0,464.5 352.5,465.8 353.1,467.3 353.6,467.8 354.2,468.7 354.7,469.4 355.3,469.2 355.8,470.6 356.3,470.4 356.9,470.4 357.4,470.6 358.0,470.8 358.5,469.4 359.1,469.1 359.6,468.5 360.2,467.6 360.7,466.6 361.3,465.9 361.8,464.1 362.3,463.8 362.9,461.5 363.4,460.8 364.0,458.6 364.5,456.5 365.1,455.4 365.6,453.9 366.2,451.7 366.7,450.5 367.3,449.1 367.8,447.6 368.3,445.1 368.9,444.2 369.4,443.1 370.0,442.8 370.5,440.9 371.1,441.0 371.6,439.3 372.2,439.5 372.7,437.5 373.3,439.1 373.8,437.5 374.3,437.7 374.9,439.3 375.4,438.8 376.0,438.5 376.5,439.3 377.1,441.5 377.6,441.9 378.2,443.3 378.7,444.4 379.3,445.5 379.8,445.6 380.3,447.9 380.9,449.7 381.4,451.3 382.0,452.4 382.5,454.0 383.1,456.4 383.6,456.8 384.2,459.7 384.7,460.8 385.3,461.9 385.8,462.6 386.3,465.0 386.9,465.8 387.4,466.4 388.0,467.7 388.5,468.3 389.1,469.0 389.6,469.9 390.2,470.1 390.7,470.1 391.3,470.7 391.8,469.7 392.4,471.3 392.9,470.3 393.4,468.5 394.0,468.3 394.5,468.0 395.1,466.4 395.6,464.9 396.2,464.6 396.7,462.5 397.3,461.6 397.8,460.1 398.4,458.5 398.9,456.3 399.4,455.8 400.0,453.8 400.5,451.7 401.1,451.1 401.6,449.7 402.2,447.1 402.7,446.0 403.3,444.7 403.8,443.3 404.4,442.7 404.9,439.7 405.4,440.8 406.0,439.8 406.5,439.7 407.1,438.8 407.6,437.5 408.2,438.1 408.7,437.8 409.3,438.6 409.8,437.8 410.4,439.1 410.9,440.5 411.4,440.3 412.0,441.8 412.5,442.4 413.1,443.8 413.6,445.0 414.2,446.5 414.7,448.5 415.3,450.3 415.8,450.6 416.4,452.7 416.9,454.1 417.4,456.2 418.0,458.6 418.5,459.8 419.1,459.9 419.6,462.5 420.2,463.7 420.7,465.5 421.3,466.2 421.8,467.2 422.4,468.1 422.9,468.9 423.4,469.8 424.0,470.3 424.5,470.4 425.1,470.4 425.6,470.7 426.2,469.6 426.7,470.2 427.3,469.8 427.8,469.6 428.4,468.0 428.9,468.2 429.4,467.5 430.0,466.0 430.5,464.0 431.1,463.6 431.6,460.9 432.2,460.1 432.7,459.3 433.3,457.0 433.8,454.4 434.4,454.1 434.9,452.7 435.4,450.2 436.0,448.2 436.5,446.9 437.1,446.2 437.6,444.5 438.2,443.2 438.7,441.6 439.3,440.1 439.8,440.4 440.4,438.9 440.9,439.2 441.4,438.2 442.0,438.7 442.5,438.5 443.1,437.9 443.6,438.8 444.2,438.2 444.7,439.5 445.3,439.8 445.8,440.7 446.4,441.8 446.9,442.6 447.4,443.3 448.0,443.5 448.5,447.1 449.1,447.8 449.6,449.6 450.2,451.5 450.7,452.5 451.3,454.7 451.8,455.9 452.4,456.8 452.9,460.1 453.4,460.5 454.0,461.8 454.5,464.0 455.1,464.5 455.6,465.8 456.2,467.2 456.7,467.4 457.3,469.5 457.8,469.2 458.4,470.1 458.9,470.9 459.4,470.7 460.0,470.8 460.5,470.1 461.1,471.1 461.6,470.0 462.2,469.5 462.7,467.7 463.3,468.3 463.8,466.1 464.4,466.5 464.9,464.1 465.4,463.1 466.0,461.4 466.5,460.4 467.1,459.6 467.6,457.8 468.2,454.7 468.7,453.6 469.3,452.6 469.8,450.0 470.4,449.3 470.9,447.8 471.4,446.7 472.0,444.1 472.5,442.4 473.1,442.8 473.6,441.1 474.2,439.9 474.7,438.5 475.3,440.3 475.8,438.5 476.4,437.9 476.9,438.9 477.4,437.9 478.0,438.2 478.5,438.3 479.1,439.5 479.6,439.6 480.2,441.0 480.7,441.3 481.3,442.6 481.8,444.0 482.4,445.8 482.9,445.6 483.4,447.4 484.0,449.0 484.5,451.4 485.1,452.8 485.6,453.4 486.2,455.5 486.7,457.9 487.3,459.0 487.8,460.5 488.4,462.2 488.9,463.9 489.4,464.1 490.0,465.6 490.5,467.1 491.1,468.8 491.6,469.1 492.2,469.5 492.7,469.6 493.3,470.6 493.8,470.0 494.4,470.6 494.9,471.0 495.4,471.8 496.0,470.5 496.5,470.1 497.1,468.6 497.6,467.5 498.2,466.0 498.7,465.6 499.3,465.0 499.8,461.8 500.4,461.4 500.9,460.3 501.4,458.7 502.0,457.7 502.5,455.0 503.1,453.6 503.6,451.3 504.2,450.0 504.7,448.5 505.3,446.8 505.8,446.2 506.4,444.9 506.9,443.5 507.5,442.9 508.0,441.3 508.5,440.6 509.1,439.3 509.6,439.0 510.2,439.6 510.7,438.2 511.3,437.4 511.8,439.1 512.4,438.7 512.9,438.7 513.5,439.9 514.0,440.1 514.5,440.6 515.1,442.2 515.6,442.4 516.2,443.6 516.7,445.7 517.3,446.4 517.8,447.3 518.4,449.5 518.9,450.7 519.5,452.2 520.0,454.3 520.5,455.3 521.1,457.2 521.6,459.5 522.2,460.2 522.7,461.5 523.3,463.0 523.8,465.0 524.4,465.6 524.9,466.3 525.5,467.8 526.0,468.1 526.5,468.8 527.1,470.0 527.6,470.0 528.2,470.7 528.7,470.1 529.3,470.6 529.8,470.6 530.4,469.9 530.9,469.3 531.5,468.4 532.0,467.5 532.5,467.3 533.1,465.9 533.6,464.2 534.2,462.8 534.7,461.6 535.3,458.7 535.8,458.0 536.4,457.0 536.9,455.0 537.5,453.1 538.0,451.9 538.5,451.4 539.1,448.9 539.6,447.5 540.2,444.9 540.7,445.6 541.3,442.6 541.8,442.4 542.4,440.8 542.9,440.5 543.5,439.5 544.0,438.4 544.5,438.5 545.1,437.7 545.6,438.1 546.2,438.3 546.7,438.4 547.3,438.9 547.8,439.2 548.4,439.1 548.9,441.2 549.5,442.4 550.0,442.6 550.5,442.8 551.1,444.5 551.6,445.7 552.2,447.2 552.7,449.7 553.3,450.8 553.8,453.9 554.4,454.4 554.9,455.4 555.5,458.2 556.0,460.0 556.5,461.1 557.1,461.8 557.6,462.7 558.2,463.3 558.7,465.1 559.3,467.7 559.8,469.1 560.4,468.6 560.9,468.8 561.5,470.8 562.0,470.6 562.5,470.8 563.1,470.6 563.6,470.6 564.2,470.0 564.7,469.3 565.3,469.2 565.8,468.1 566.4,466.6 566.9,467.2 567.5,466.1 568.0,464.1 568.5,462.0 569.1,461.5 569.6,459.5 570.2,458.7 570.7,456.5 571.3,455.7 571.8,453.4 572.4,451.9 572.9,450.3 573.5,448.3 574.0,446.9 574.5,446.3 575.1,444.2 575.6,444.3 576.2,441.7 576.7,439.8 577.3,440.1 577.8,439.3 578.4,438.9 578.9,438.1 579.5,438.4 580.0,437.7 580.5,438.2 581.1,438.4 581.6,438.5 582.2,439.1 582.7,440.6 583.3,439.4 583.8,441.3 584.4,443.3 584.9,443.1 585.5,444.9 586.0,446.2 586.5,447.4 587.1,449.7 587.6,452.3 588.2,452.5 588.7,453.9 589.3,455.1 589.8,457.7 590.4,459.0 590.9,460.2 591.5,462.0 592.0,463.4 592.5,464.4 593.1,466.3 593.6,466.0 594.2,468.3 594.7,468.6 595.3,469.5 595.8,470.2 596.4,470.0 596.9,470.0 597.5,469.8 598.0,470.2 598.5,470.4 599.1,469.3 599.6,470.0 600.2,468.5 600.7,467.4 601.3,466.4 601.8,466.2 602.4,465.1 602.9,462.1 603.5,461.9 604.0,461.0 604.5,459.2 605.1,457.0 605.6,454.8 606.2,453.8 606.7,451.5 607.3,450.4 607.8,448.7 608.4,447.0 608.9,446.2 609.5,444.5 610.0,443.6 610.5,442.6" fill="none" stroke="#f0882a" stroke-width="1.6"/>
</g>
<g fill="none">
<line x1="34" y1="323.6" x2="640" y2="323.6" stroke="#111" stroke-width="1.4"/>
<line x1="37.6" y1="324" x2="37.6" y2="562" stroke="#eaeaea" stroke-width="1.2"/>
<line x1="638.5" y1="324" x2="638.5" y2="562" stroke="#eeeeee" stroke-width="1.2"/>
<line x1="37.5" y1="562.3" x2="640" y2="562.3" stroke="#111" stroke-width="1.4"/>
<path d="M33.5,366.9H37M33.5,410.3H37M33.5,453.7H37M33.5,497.1H37M33.5,540.5H37" stroke="#777" stroke-width="1"/>
<path d="M65.05,562.3V565M174.15,562.3V565M283.25,562.3V565M392.35,562.3V565M501.45,562.3V565M610.55,562.3V565" stroke="#ddd" stroke-width="1"/>
</g>
<g class="t" text-anchor="end">
<text x="29.5" y="327.6">3</text>
<text x="29.5" y="371">2</text>
<text x="29.5" y="414.4">1</text>
<text x="29.5" y="457.8">0</text>
<text x="29.5" y="501.2" style="fill:#c8c8c8" textLength="11.5" lengthAdjust="spacingAndGlyphs">−1</text>
<text x="29.5" y="544.6" textLength="13" lengthAdjust="spacingAndGlyphs">−2</text>
</g>
<g class="t" text-anchor="middle">
<text x="65.05" y="578.5">0</text>
<text x="173.5" y="578.5">200</text>
<text x="283.25" y="578.5">400</text>
<text x="392.35" y="578.5">600</text>
<text x="501.45" y="578.5">800</text>
<text x="610.55" y="578.5">1000</text>
</g>
<rect x="421.6" y="494.7" width="211.4" height="61.7" rx="2.5" fill="#fff" fill-opacity="0.85" stroke="#dcdcdc" stroke-width="1"/>
<line x1="424.4" y1="503.75" x2="447.5" y2="503.75" stroke="#2f78b5" stroke-width="2"/>
<line x1="424.4" y1="522.8" x2="447.5" y2="522.8" stroke="#f0882a" stroke-width="2"/>
<rect x="424.4" y="540.3" width="23.1" height="7.8" fill="#c8c8fa"/>
<g class="lg">
<text x="456" y="507.5" textLength="113.7" lengthAdjust="spacingAndGlyphs">Observed time series</text>
<text x="456" y="526.6" textLength="111.5" lengthAdjust="spacingAndGlyphs">Mean prediction from</text>
<text x="456" y="547.5" textLength="142.5" lengthAdjust="spacingAndGlyphs">Prediction uncertainty from</text>
</g>
<path d="M571.7,526.6 C573.0,526.2 574.7,522.4 575.7,518.4 L577.1,525.6 L582.0,518.4 C581.5,521.4 581.3,524.4 582.8,526.1" fill="none" stroke="#3a3a3a" stroke-width="0.95" stroke-linejoin="round" stroke-linecap="round"/><text x="585" y="522" style="font-family:'Liberation Sans';font-size:8px;fill:#555">+</text>
<path d="M605.2,547.5 C606.7,547.1 608.6,543.3 609.7,539.3 L611.3,546.5 L616.9,539.3 C616.3,542.3 616.1,545.3 617.8,547.0" fill="none" stroke="#3a3a3a" stroke-width="0.95" stroke-linejoin="round" stroke-linecap="round"/><text x="621.5" y="543" style="font-family:'Liberation Sans';font-size:8px;fill:#555">†</text>

<!-- caption b -->
<text class="cap" x="141.8" y="623.9" style="font-size:24.2px">(b) The fit of a simple MLP with LAI.</text>

<!-- ============ CHART 3 ============ -->
<g clip-path="url(#c3)">
<path d="M72.8,653.1 73.3,656.3 73.9,674.4 74.4,727.6 74.9,757.4 75.5,759.4 76.0,759.3 76.6,759.2 77.1,759.4 77.6,759.3 78.2,759.3 78.7,759.4 79.2,756.3 79.8,753.6 80.3,753.1 80.8,755.2 81.4,757.4 81.9,759.4 82.5,759.3 83.0,759.4 83.5,759.2 84.1,759.4 84.6,759.0 85.1,759.5 85.7,759.4 86.2,759.1 86.7,653.1 87.3,759.4 87.8,758.9 88.4,759.4 88.9,759.3 89.4,759.2 90.0,759.3 90.5,759.5 91.0,759.5 91.6,759.5 92.1,759.5 92.7,759.4 93.2,759.4 93.7,759.5 94.3,759.3 94.8,759.2 95.3,759.4 95.9,759.3 96.4,759.0 96.9,759.5 97.5,759.5 98.0,759.2 98.6,759.3 99.1,759.2 99.6,759.4 100.2,759.3 100.7,759.3 101.2,759.3 101.8,759.5 102.3,759.4 102.8,759.1 103.4,759.2 103.9,759.5 104.5,759.5 105.0,759.3 105.5,759.3 106.1,759.2 106.6,759.3 107.1,759.4 107.7,653.1 108.2,653.1 108.7,759.5 109.3,759.4 109.8,759.4 110.4,759.2 110.9,759.3 111.4,759.2 112.0,759.2 112.5,759.1 113.0,759.4 113.6,759.4 114.1,759.5 114.6,759.2 115.2,759.4 115.7,759.4 116.3,759.3 116.8,759.2 117.3,759.2 117.9,759.3 118.4,759.4 118.9,759.4 119.5,759.2 120.0,759.5 120.5,759.1 121.1,759.5 121.6,759.5 122.2,759.4 122.7,759.4 123.2,759.3 123.8,759.4 124.3,759.5 124.8,759.1 125.4,653.1 125.9,653.1 126.4,759.4 127.0,759.4 127.5,759.2 128.1,759.5 128.6,759.3 129.1,759.4 129.7,759.4 130.2,759.4 130.7,759.4 131.3,759.0 131.8,653.1 132.4,653.1 132.9,759.3 133.4,759.4 134.0,759.4 134.5,759.2 135.0,759.4 135.6,759.0 136.1,759.2 136.6,759.4 137.2,759.4 137.7,759.5 138.3,759.2 138.8,759.4 139.3,759.3 139.9,759.3 140.4,759.4 140.9,759.3 141.5,759.5 142.0,759.2 142.5,759.4 143.1,759.2 143.6,759.3 144.2,759.3 144.7,759.5 145.2,759.4 145.8,759.5 146.3,759.4 146.8,759.4 147.4,759.3 147.9,759.5 148.4,759.1 149.0,653.1 149.5,748.9 150.1,759.3 150.6,759.3 151.1,759.5 151.7,759.4 152.2,759.2 152.7,759.1 153.3,759.4 153.8,759.4 154.3,759.2 154.9,759.4 155.4,759.3 156.0,759.3 156.5,759.3 157.0,759.5 157.6,759.2 158.1,759.3 158.6,759.2 159.2,759.0 159.7,759.5 160.2,759.5 160.8,759.2 161.3,759.4 161.9,759.1 162.4,759.3 162.9,759.4 163.5,759.4 164.0,759.4 164.5,759.3 165.1,759.2 165.6,759.3 166.2,759.3 166.7,759.4 167.2,759.3 167.8,759.3 168.3,653.1 168.8,653.1 169.4,759.5 169.9,759.3 170.4,759.3 171.0,759.4 171.5,759.2 172.1,759.1 172.6,759.4 173.1,759.4 173.7,759.2 174.2,759.3 174.7,759.1 175.3,759.3 175.8,759.3 176.3,653.1 176.9,653.1 177.4,759.5 178.0,759.5 178.5,759.3 179.0,759.4 179.6,759.4 180.1,759.4 180.6,759.4 181.2,759.5 181.7,759.4 182.2,759.4 182.8,759.2 183.3,759.4 183.9,759.3 184.4,759.5 184.9,759.4 185.5,759.2 186.0,759.3 186.5,759.3 187.1,759.4 187.6,759.1 188.1,759.3 188.7,759.4 189.2,759.3 189.8,759.4 190.3,755.2 190.8,759.5 191.4,759.4 191.9,759.0 192.4,759.3 193.0,759.4 193.5,759.5 194.0,759.4 194.6,759.4 195.1,759.4 195.7,759.4 196.2,759.4 196.7,759.4 197.3,759.5 197.8,759.3 198.3,759.3 198.9,758.9 199.4,759.2 200.0,759.5 200.5,759.5 201.0,759.2 201.6,759.4 202.1,759.3 202.6,759.1 203.2,759.3 203.7,759.3 204.2,759.3 204.8,759.3 205.3,759.4 205.9,759.3 206.4,759.3 206.9,653.1 207.5,653.1 208.0,653.1 208.5,653.1 209.1,653.1 209.6,653.1 210.1,653.1 210.7,653.1 211.2,653.1 211.8,653.1 212.3,653.1 212.8,653.1 213.4,653.1 213.9,653.1 214.4,653.1 215.0,653.1 215.5,653.1 216.0,653.1 216.6,653.1 217.1,653.1 217.7,759.3 218.2,759.4 218.7,759.2 219.3,759.4 219.8,759.4 220.3,759.0 220.9,759.4 221.4,759.4 221.9,759.3 222.5,759.4 223.0,759.4 223.6,759.5 224.1,759.2 224.6,759.3 225.2,759.5 225.7,759.5 226.2,759.4 226.8,759.5 227.3,759.4 227.8,759.5 228.4,759.4 228.9,759.0 229.5,759.3 230.0,759.5 230.5,759.4 231.1,759.4 231.6,759.4 232.1,759.3 232.7,759.5 233.2,759.5 233.8,759.5 234.3,759.4 234.8,759.2 235.4,653.1 235.9,759.4 236.4,759.5 237.0,759.1 237.5,759.4 238.0,759.3 238.6,759.4 239.1,759.2 239.7,759.4 240.2,759.4 240.7,759.5 241.3,759.4 241.8,759.3 242.3,759.3 242.9,759.3 243.4,759.4 243.9,759.0 244.5,759.4 245.0,653.1 245.6,653.1 246.1,759.3 246.6,759.4 247.2,759.5 247.7,759.0 248.2,759.5 248.8,759.4 249.3,759.4 249.8,759.3 250.4,759.5 250.9,759.2 251.5,759.4 252.0,759.3 252.5,759.3 253.1,759.4 253.6,759.3 254.1,653.1 254.7,653.1 255.2,759.0 255.7,759.4 256.3,759.4 256.8,759.4 257.4,759.3 257.9,759.5 258.4,759.2 259.0,759.2 259.5,759.4 260.0,759.1 260.6,759.4 261.1,759.0 261.6,759.3 262.2,759.4 262.7,759.4 263.3,759.5 263.8,759.4 264.3,759.1 264.9,759.5 265.4,759.4 265.9,759.4 266.5,653.1 267.0,653.1 267.5,759.4 268.1,759.3 268.6,759.4 269.2,759.2 269.7,759.3 270.2,759.4 270.8,759.5 271.3,653.1 271.8,759.3 272.4,759.4 272.9,759.4 273.5,759.5 274.0,759.5 274.5,759.4 275.1,759.4 275.6,759.3 276.1,759.4 276.7,759.3 277.2,759.4 277.7,759.4 278.3,759.4 278.8,759.3 279.4,759.4 279.9,759.5 280.4,759.5 281.0,759.5 281.5,759.1 282.0,759.4 282.6,759.3 283.1,759.5 283.6,759.4 284.2,759.0 284.7,759.4 285.3,759.3 285.8,759.3 286.3,759.4 286.9,759.4 287.4,759.5 287.9,759.4 288.5,759.4 289.0,759.0 289.5,759.5 290.1,653.1 290.6,653.1 291.2,759.5 291.7,759.3 292.2,759.4 292.8,759.2 293.3,759.0 293.8,759.4 294.4,759.4 294.9,759.5 295.4,759.2 296.0,759.2 296.5,759.2 297.1,759.3 297.6,759.3 298.1,759.4 298.7,653.1 299.2,759.3 299.7,759.2 300.3,759.3 300.8,759.5 301.3,759.3 301.9,759.4 302.4,759.3 303.0,759.5 303.5,759.4 304.0,759.0 304.6,759.1 305.1,759.3 305.6,759.3 306.2,759.4 306.7,759.4 307.3,759.5 307.8,759.3 308.3,759.4 308.9,759.4 309.4,759.5 309.9,759.2 310.5,759.1 311.0,759.5 311.5,759.2 312.1,759.2 312.6,752.1 313.2,759.3 313.7,759.3 314.2,759.5 314.8,759.2 315.3,759.4 315.8,759.4 316.4,758.7 316.9,759.4 317.4,759.5 318.0,759.3 318.5,759.3 319.1,759.3 319.6,759.1 320.1,759.4 320.7,759.3 321.2,759.2 321.7,759.5 322.3,759.3 322.8,759.2 323.3,759.1 323.9,759.2 324.4,759.3 325.0,759.2 325.5,759.5 326.0,759.2 326.6,759.4 327.1,759.4 327.6,755.2 328.2,759.2 328.7,759.4 329.2,759.1 329.8,759.2 330.3,759.3 330.9,759.3 331.4,759.3 331.9,759.2 332.5,759.3 333.0,759.3 333.5,759.5 334.1,759.2 334.6,759.4 335.1,759.5 335.7,759.4 336.2,759.3 336.8,759.2 337.3,759.4 337.8,759.4 338.4,759.4 338.9,759.4 339.4,759.4 340.0,759.3 340.5,759.5 341.1,759.1 341.6,759.5 342.1,653.1 342.7,653.1 343.2,759.4 343.7,759.4 344.3,759.4 344.8,759.4 345.3,759.5 345.9,653.1 346.4,653.1 347.0,759.2 347.5,759.0 348.0,759.2 348.6,759.5 349.1,759.3 349.6,759.5 350.2,759.4 350.7,759.0 351.2,759.2 351.8,759.4 352.3,759.5 352.9,759.5 353.4,759.4 353.9,759.4 354.5,759.4 355.0,759.4 355.5,759.4 356.1,759.4 356.6,759.5 357.1,759.2 357.7,759.3 358.2,759.2 358.8,759.1 359.3,759.5 359.8,759.4 360.4,759.3 360.9,759.3 361.4,759.2 362.0,759.5 362.5,759.1 363.0,759.3 363.6,653.1 364.1,653.1 364.7,759.2 365.2,759.1 365.7,759.2 366.3,759.5 366.8,759.4 367.3,759.1 367.9,759.3 368.4,759.1 368.9,759.2 369.5,759.3 370.0,759.4 370.6,759.4 371.1,759.5 371.6,759.2 372.2,759.1 372.7,759.1 373.2,759.5 373.8,759.3 374.3,759.4 374.8,759.2 375.4,759.0 375.9,759.4 376.5,759.5 377.0,759.4 377.5,759.2 378.1,759.2 378.6,759.3 379.1,759.2 379.7,759.5 380.2,759.3 380.8,759.3 381.3,759.3 381.8,759.1 382.4,759.0 382.9,759.3 383.4,759.4 384.0,759.2 384.5,759.5 385.0,759.2 385.6,759.3 386.1,759.2 386.7,759.4 387.2,759.4 387.7,759.5 388.3,759.3 388.8,759.4 389.3,759.2 389.9,759.4 390.4,759.3 390.9,759.2 391.5,759.2 392.0,759.3 392.6,759.0 393.1,759.3 393.6,759.2 394.2,759.3 394.7,759.3 395.2,653.1 395.8,653.1 396.3,759.1 396.8,759.3 397.4,759.2 397.9,759.3 398.5,759.2 399.0,759.4 399.5,759.3 400.1,759.3 400.6,759.4 401.1,759.5 401.7,759.2 402.2,759.4 402.7,759.3 403.3,759.3 403.8,759.4 404.4,755.2 404.9,759.5 405.4,759.5 406.0,759.3 406.5,759.3 407.0,759.4 407.6,759.4 408.1,759.4 408.6,759.2 409.2,759.2 409.7,759.5 410.3,759.5 410.8,759.5 411.3,759.5 411.9,759.0 412.4,759.2 412.9,759.3 413.5,759.3 414.0,759.5 414.6,759.5 415.1,759.4 415.6,759.1 416.2,759.5 416.7,759.4 417.2,759.4 417.8,759.0 418.3,759.3 418.8,759.3 419.4,759.4 419.9,759.2 420.5,759.3 421.0,759.4 421.5,759.5 422.1,759.5 422.6,759.4 423.1,759.4 423.7,759.2 424.2,759.3 424.7,759.2 425.3,759.5 425.8,759.4 426.4,759.4 426.9,759.4 427.4,759.5 428.0,759.2 428.5,759.2 429.0,759.3 429.6,759.3 430.1,759.4 430.6,759.4 431.2,759.4 431.7,759.4 432.3,759.3 432.8,759.3 433.3,759.4 433.9,759.4 434.4,759.2 434.9,759.2 435.5,759.2 436.0,759.2 436.5,759.2 437.1,759.5 437.6,759.4 438.2,759.0 438.7,759.5 439.2,759.3 439.8,759.1 440.3,759.3 440.8,759.5 441.4,759.2 441.9,759.5 442.4,759.4 443.0,759.4 443.5,759.4 444.1,759.4 444.6,759.4 445.1,759.5 445.7,759.3 446.2,759.5 446.7,759.5 447.3,759.4 447.8,759.5 448.4,759.3 448.9,759.2 449.4,759.5 450.0,759.0 450.5,759.3 451.0,759.1 451.6,759.5 452.1,759.3 452.6,759.4 453.2,759.5 453.7,759.3 454.3,759.4 454.8,759.1 455.3,759.3 455.9,759.3 456.4,759.3 456.9,653.1 457.5,653.1 458.0,759.4 458.5,759.5 459.1,759.4 459.6,759.4 460.2,759.3 460.7,759.5 461.2,759.4 461.8,759.4 462.3,759.5 462.8,759.2 463.4,759.3 463.9,759.5 464.4,759.3 465.0,759.3 465.5,759.4 466.1,759.4 466.6,759.2 467.1,759.2 467.7,759.1 468.2,759.4 468.7,759.4 469.3,759.3 469.8,759.4 470.3,759.1 470.9,759.4 471.4,653.1 472.0,653.1 472.5,759.3 473.0,759.3 473.6,759.5 474.1,759.4 474.6,759.4 475.2,759.2 475.7,759.5 476.2,759.4 476.8,759.2 477.3,759.4 477.9,759.4 478.4,759.5 478.9,759.2 479.5,759.4 480.0,759.3 480.5,759.2 481.1,759.2 481.6,759.1 482.1,759.3 482.7,759.1 483.2,759.5 483.8,759.5 484.3,759.5 484.8,653.1 485.4,653.1 485.9,756.3 486.4,759.1 487.0,759.3 487.5,759.4 488.1,759.5 488.6,759.4 489.1,759.2 489.7,759.3 490.2,759.4 490.7,759.3 491.3,759.1 491.8,759.4 492.3,759.5 492.9,759.0 493.4,759.4 494.0,759.5 494.5,759.3 495.0,759.4 495.6,759.4 496.1,759.4 496.6,743.5 497.2,759.3 497.7,759.3 498.2,759.4 498.8,759.2 499.3,759.5 499.9,759.4 500.4,759.5 500.9,759.3 501.5,759.2 502.0,759.1 502.5,759.3 503.1,759.4 503.6,759.3 504.1,759.2 504.7,759.4 505.2,759.2 505.8,759.4 506.3,759.4 506.8,759.2 507.4,759.2 507.9,759.4 508.4,759.5 509.0,759.2 509.5,759.3 510.0,759.4 510.6,759.5 511.1,759.3 511.7,759.5 512.2,759.4 512.7,759.3 513.3,759.5 513.8,752.1 514.3,759.1 514.9,759.3 515.4,759.4 515.9,759.3 516.5,759.4 517.0,758.9 517.6,759.4 518.1,653.1 518.6,653.1 519.2,759.4 519.7,759.4 520.2,759.5 520.8,759.2 521.3,759.4 521.9,759.3 522.4,759.5 522.9,759.4 523.5,759.3 524.0,759.4 524.5,752.1 525.1,759.2 525.6,759.3 526.1,759.3 526.7,759.3 527.2,759.2 527.8,759.5 528.3,759.3 528.8,653.1 529.4,653.1 529.9,759.3 530.4,759.3 531.0,759.2 531.5,759.3 532.0,653.1 532.6,653.1 533.1,759.1 533.7,759.4 534.2,759.2 534.7,759.4 535.3,759.2 535.8,759.4 536.3,759.3 536.9,759.4 537.4,759.4 537.9,759.4 538.5,759.5 539.0,759.0 539.6,759.4 540.1,759.4 540.6,759.4 541.2,759.4 541.7,759.1 542.2,759.4 542.8,759.4 543.3,759.1 543.8,759.5 544.4,759.1 544.9,759.3 545.5,759.4 546.0,759.4 546.5,759.5 547.1,759.3 547.6,759.4 548.1,759.3 548.7,759.4 549.2,759.3 549.7,759.3 550.3,759.1 550.8,759.2 551.4,759.3 551.9,759.2 552.4,759.3 553.0,759.4 553.5,759.3 554.0,759.1 554.6,759.3 555.1,759.4 555.6,759.4 556.2,759.4 556.7,759.4 557.3,759.4 557.8,759.2 558.3,757.4 558.9,759.4 559.4,759.4 559.9,759.5 560.5,759.3 561.0,758.9 561.6,759.2 562.1,759.3 562.6,759.4 563.2,759.5 563.7,759.4 564.2,759.4 564.8,759.5 565.3,759.2 565.8,759.4 566.4,759.3 566.9,653.1 567.5,653.1 568.0,759.4 568.5,759.5 569.1,759.4 569.6,759.3 570.1,759.5 570.7,653.1 571.2,653.1 571.7,759.5 572.3,653.1 572.8,653.1 573.4,759.5 573.9,759.4 574.4,759.4 575.0,759.4 575.5,759.5 576.0,759.3 576.6,759.1 577.1,759.4 577.6,759.4 578.2,759.4 578.7,759.5 579.3,759.5 579.8,759.1 580.3,759.5 580.9,759.3 581.4,759.4 581.9,759.4 582.5,759.4 583.0,759.4 583.5,759.4 584.1,759.4 584.6,759.3 585.2,759.2 585.7,759.1 586.2,759.5 586.8,754.2 587.3,759.3 587.8,759.3 588.4,759.3 588.9,759.4 589.4,653.1 590.0,653.1 590.5,759.4 591.1,759.0 591.6,759.5 592.1,759.4 592.7,759.3 593.2,759.2 593.7,759.2 594.3,759.2 594.8,759.3 595.4,759.5 595.9,759.2 596.4,759.2 597.0,759.5 597.5,759.2 598.0,759.5 598.6,759.2 599.1,759.1 599.6,759.4 600.2,759.3 600.7,759.2 601.3,759.5 601.8,759.3 602.3,759.3 602.9,759.4 603.4,759.3 603.9,759.3 604.5,759.3 605.0,759.5 605.5,759.3 606.1,759.3 606.6,759.5 607.2,759.3 607.7,759.2 608.2,759.3 608.8,759.5 609.3,759.4" fill="none" stroke="#3a8e2c" stroke-width="1.6"/>
</g>
<g fill="none">
<line x1="46.3" y1="647.9" x2="635.4" y2="647.9" stroke="#eeeeee" stroke-width="1.2"/>
<line x1="46.3" y1="647.5" x2="46.3" y2="765.5" stroke="#333" stroke-width="1.5"/>
<line x1="635.4" y1="647.5" x2="635.4" y2="765.5" stroke="#333" stroke-width="1.4"/>
<line x1="45.5" y1="764.9" x2="636" y2="764.9" stroke="#222" stroke-width="1.4"/>
<path d="M42,653.1H46M42,679.7H46M42,706.3H46M42,732.9H46M42,759.5H46" stroke="#333" stroke-width="1"/>
<path d="M72.8,764.9V768.5M180.1,764.9V768.5M287.4,764.9V768.5M394.7,764.9V768.5M502,764.9V768.5M609.3,764.9V768.5" stroke="#333" stroke-width="1"/>
</g>
<g class="t" text-anchor="end">
<text x="38.3" y="657.1" textLength="22.5" lengthAdjust="spacingAndGlyphs">1.00</text>
<text x="38.3" y="683.7" textLength="22.5" lengthAdjust="spacingAndGlyphs">0.75</text>
<text x="38.3" y="710.3" textLength="22.5" lengthAdjust="spacingAndGlyphs">0.50</text>
<text x="38.3" y="736.9" textLength="22.5" lengthAdjust="spacingAndGlyphs">0.25</text>
<text x="38.3" y="763.5" textLength="22.5" lengthAdjust="spacingAndGlyphs">0.00</text>
</g>
<g class="t" text-anchor="middle">
<text x="72.8" y="780.5">0</text>
<text x="180.1" y="780.5" style="fill:#444" textLength="19" lengthAdjust="spacingAndGlyphs">200</text>
<text x="287.4" y="780.5" style="fill:#444" textLength="19" lengthAdjust="spacingAndGlyphs">400</text>
<text x="394.7" y="780.5" style="fill:#444" textLength="19" lengthAdjust="spacingAndGlyphs">600</text>
<text x="502" y="780.5" style="fill:#444" textLength="19" lengthAdjust="spacingAndGlyphs">800</text>
<text x="609.3" y="780.5" style="fill:#444" textLength="25" lengthAdjust="spacingAndGlyphs">1000</text>
</g>
<rect x="512.4" y="694.75" width="118.8" height="22.75" rx="2.5" fill="#fff" fill-opacity="0.8" stroke="#dcdcdc" stroke-width="1"/>
<line x1="516" y1="705.3" x2="539.4" y2="705.3" stroke="#3a8e2c" stroke-width="1.2"/>
<text class="lg" x="547.8" y="709.1" textLength="78.5" lengthAdjust="spacingAndGlyphs">Infered <tspan style="font-style:italic;font-family:'Liberation Serif',serif;font-size:12px">p</tspan>(<tspan font-weight="bold">i</tspan> = 1)</text>

<path d="M0,781.5H12.5M14.5,781.5H44M46,781.5H76M78,781.5H107M109,781.5H138" stroke="#dddddd" stroke-width="1.2"/>

<!-- caption c -->
<text class="cap" x="48.5" y="816.8">(c) The time series of latent anomaly indicator</text>
<g class="cap">
<text x="500" y="816.8" font-style="italic" font-size="24.5" textLength="12.3" lengthAdjust="spacingAndGlyphs" fill="#222">p</text>
<text x="512" y="818.6" font-size="27.5" textLength="8.5" lengthAdjust="spacingAndGlyphs" fill="#222">(</text>
<text x="522.8" y="816.8" font-style="italic" textLength="12.5" lengthAdjust="spacingAndGlyphs">z</text>
<text x="535" y="820" font-style="italic" font-size="17" textLength="6.5" lengthAdjust="spacingAndGlyphs">t</text>
<rect x="549.7" y="808.7" width="16.6" height="1.2" fill="#111"/>
<rect x="549.7" y="813.2" width="16.6" height="1.2" fill="#111"/>
<text x="574" y="816.8" textLength="12" lengthAdjust="spacingAndGlyphs">1</text>
<text x="588" y="818.6" font-size="27.5" textLength="8.5" lengthAdjust="spacingAndGlyphs" fill="#222">)</text>
<text x="597" y="816.8">.</text>
</g>
</svg>
</body></html>
